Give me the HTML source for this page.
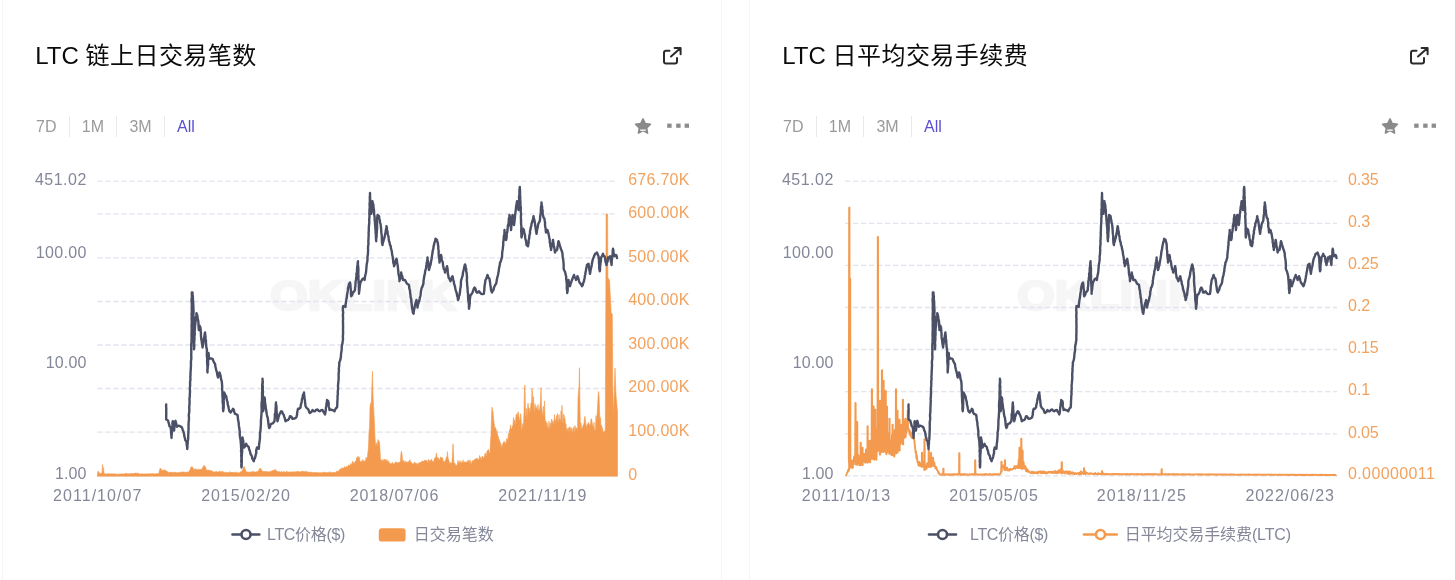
<!DOCTYPE html>
<html lang="zh-CN"><head><meta charset="utf-8"><title>LTC</title>
<style>
html,body{margin:0;padding:0;background:#fff;}
body{width:1455px;height:580px;overflow:hidden;position:relative;font-family:"Liberation Sans","Noto Sans CJK SC",sans-serif;}
.card{position:absolute;top:0;width:720px;height:600px;}
.card:before{content:"";position:absolute;left:1.5px;top:-10px;width:718px;height:620px;border:1px solid #f5f5f6;border-radius:4px;}
.title{position:absolute;left:35.3px;top:41px;font-size:24px;line-height:30px;color:#0b0b0b;white-space:nowrap;}
.tabs{position:absolute;left:22.8px;top:116px;height:21px;font-size:16px;line-height:21px;color:#9a9a9a;white-space:nowrap;display:flex;}
.tabs span{display:block;padding:0 12.2px 0 12.2px;border-left:1px solid #e9e9e9;}
.tabs span:first-child{border-left:1px solid transparent;}
.tabs .on{color:#5a4fd0;}
.cj{letter-spacing:0.45px;}
.ico{position:absolute;left:0;top:0;}
.chart{position:absolute;left:0;top:0;}
.ax{font-family:"Liberation Sans",sans-serif;font-size:16px;}
.lg{font-family:"Liberation Sans","Noto Sans CJK SC",sans-serif;font-size:16px;}
</style></head><body>

<div class="card" style="left:0px">
 <div class="title">LTC <span class=cj>链上日交易笔数</span></div>
 <div class="tabs"><span>7D</span><span>1M</span><span>3M</span><span class="on">All</span></div>
 
<svg class="ico" width="720" height="160" viewBox="0 -0.5 720 160">
 <g fill="none" stroke="#2b2b2b" stroke-width="2" stroke-linecap="round" stroke-linejoin="round">
  <path d="M669.5 50.2 H666 a2 2 0 0 0 -2 2 V61 a2 2 0 0 0 2 2 H675 a2 2 0 0 0 2 -2 V57.5"/>
  <path d="M671 56 L680.3 47.8 M674.6 47.6 H680.6 V53.8"/>
 </g>
 <path fill="#8a8a8a" d="M643 118.4 l2.3 4.7 5.2 0.7 -3.8 3.7 0.9 5.2 -4.6 -2.5 -4.6 2.5 0.9 -5.2 -3.8 -3.7 5.2 -0.7z" stroke="#8a8a8a" stroke-width="1.5" stroke-linejoin="round"/>
 <rect x="640.2" y="129" width="5.6" height="1.3" fill="#fff"/>
 <g fill="#8c8c8c"><rect x="667.2" y="123.1" width="4.4" height="4.2"/><rect x="676.2" y="123.1" width="4.4" height="4.2"/><rect x="684.6" y="123.1" width="4.4" height="4.2"/></g>
</svg>
 
<svg class="chart" width="720" height="580" viewBox="0 0 720 580">
 <text x="270" y="310.3" font-family="'Liberation Sans',sans-serif" font-weight="bold" font-size="42" fill="#f6f6f7" stroke="#f6f6f7" stroke-width="2.5" stroke-linejoin="miter" textLength="186" lengthAdjust="spacingAndGlyphs">OKLINK</text>
 <g stroke="#e1e4ed" stroke-width="1.3" stroke-dasharray="5.33 2.67"><line x1="97.3" y1="181.1" x2="617.6" y2="181.1"/><line x1="97.3" y1="213.9" x2="617.6" y2="213.9"/><line x1="97.3" y1="257.9" x2="617.6" y2="257.9"/><line x1="97.3" y1="301.5" x2="617.6" y2="301.5"/><line x1="97.3" y1="345.0" x2="617.6" y2="345.0"/><line x1="97.3" y1="388.5" x2="617.6" y2="388.5"/><line x1="97.3" y1="432.2" x2="617.6" y2="432.2"/><line x1="97.3" y1="475.7" x2="617.6" y2="475.7"/></g>
 <path d="M97.3 476.2 L97.5 473.8 L98.0 471.1 L98.5 471.7 L99.0 472.6 L99.5 473.1 L100.0 473.5 L100.5 473.3 L101.0 473.5 L101.5 473.2 L102.0 473.2 L102.5 464.6 L103.0 467.4 L103.5 467.8 L104.0 473.6 L104.5 473.7 L105.0 473.8 L105.5 473.9 L106.0 473.7 L106.5 473.9 L107.0 473.8 L107.5 473.6 L108.0 473.9 L108.5 473.8 L109.0 473.7 L109.5 473.6 L110.0 473.9 L110.5 474.0 L111.0 474.1 L111.5 473.7 L112.0 473.7 L112.5 473.8 L113.0 473.9 L113.5 473.7 L114.0 473.9 L114.5 474.1 L115.0 473.8 L115.5 473.8 L116.0 474.0 L116.5 474.2 L117.0 474.1 L117.5 474.2 L118.0 474.2 L118.5 474.0 L119.0 474.2 L119.5 474.0 L120.0 473.8 L120.5 474.1 L121.0 474.0 L121.5 473.7 L122.0 474.1 L122.5 474.0 L123.0 473.8 L123.5 474.1 L124.0 473.9 L124.5 473.6 L125.0 473.8 L125.5 473.3 L126.0 473.6 L126.5 473.6 L127.0 473.8 L127.5 473.6 L128.0 473.9 L128.5 473.8 L129.0 473.8 L129.5 473.8 L130.0 473.8 L130.5 473.5 L131.0 473.7 L131.5 473.6 L132.0 473.3 L132.5 473.5 L133.0 473.7 L133.5 473.5 L134.0 473.2 L134.5 473.7 L135.0 473.3 L135.5 473.0 L136.0 473.0 L136.5 473.2 L137.0 473.4 L137.5 473.1 L138.0 473.2 L138.5 473.7 L139.0 473.4 L139.5 473.7 L140.0 473.9 L140.5 474.0 L141.0 474.1 L141.5 474.1 L142.0 473.7 L142.5 473.8 L143.0 473.7 L143.5 474.1 L144.0 474.1 L144.5 473.9 L145.0 473.8 L145.5 473.9 L146.0 474.1 L146.5 473.7 L147.0 473.8 L147.5 474.1 L148.0 474.0 L148.5 473.6 L149.0 473.9 L149.5 473.8 L150.0 474.1 L150.5 473.7 L151.0 474.0 L151.5 473.6 L152.0 473.9 L152.5 473.6 L153.0 473.7 L153.5 473.6 L154.0 473.6 L154.5 474.0 L155.0 473.9 L155.5 473.7 L156.0 473.8 L156.5 473.6 L157.0 473.8 L157.5 473.6 L158.0 473.5 L158.5 473.7 L159.0 473.0 L159.5 469.9 L160.0 468.6 L160.5 468.1 L161.0 469.3 L161.5 469.4 L162.0 470.5 L162.5 470.8 L163.0 470.1 L163.5 470.2 L164.0 469.7 L164.5 469.9 L165.0 470.0 L165.5 470.5 L166.0 470.8 L166.5 471.0 L167.0 471.2 L167.5 471.9 L168.0 471.7 L168.5 472.4 L169.0 472.5 L169.5 472.5 L170.0 471.9 L170.5 472.5 L171.0 472.1 L171.5 471.9 L172.0 472.5 L172.5 472.4 L173.0 472.0 L173.5 472.7 L174.0 472.4 L174.5 472.7 L175.0 472.0 L175.5 472.3 L176.0 472.4 L176.5 472.8 L177.0 472.2 L177.5 472.7 L178.0 472.8 L178.5 472.6 L179.0 472.4 L179.5 472.1 L180.0 472.6 L180.5 472.2 L181.0 472.2 L181.5 472.3 L182.0 471.9 L182.5 472.0 L183.0 471.9 L183.5 471.9 L184.0 472.3 L184.5 471.8 L185.0 472.5 L185.5 472.4 L186.0 472.3 L186.5 472.3 L187.0 471.8 L187.5 472.0 L188.0 472.0 L188.5 472.5 L189.0 471.4 L189.5 470.5 L190.0 470.1 L190.5 468.6 L191.0 466.9 L191.5 467.2 L192.0 466.6 L192.5 467.3 L193.0 468.0 L193.5 468.7 L194.0 469.5 L194.5 469.3 L195.0 469.7 L195.5 468.5 L196.0 469.5 L196.5 469.6 L197.0 469.9 L197.5 469.8 L198.0 468.7 L198.5 469.7 L199.0 469.5 L199.5 469.9 L200.0 469.0 L200.5 469.4 L201.0 469.6 L201.5 469.2 L202.0 468.4 L202.5 468.0 L203.0 466.9 L203.5 466.2 L204.0 465.1 L204.5 465.9 L205.0 467.5 L205.5 466.6 L206.0 468.8 L206.5 469.7 L207.0 470.6 L207.5 470.2 L208.0 469.8 L208.5 470.2 L209.0 470.1 L209.5 470.6 L210.0 470.7 L210.5 470.2 L211.0 470.6 L211.5 470.7 L212.0 471.7 L212.5 471.0 L213.0 471.4 L213.5 472.0 L214.0 471.9 L214.5 472.1 L215.0 472.3 L215.5 471.5 L216.0 472.0 L216.5 471.6 L217.0 471.6 L217.5 472.1 L218.0 471.8 L218.5 471.7 L219.0 471.9 L219.5 471.6 L220.0 471.0 L220.5 471.6 L221.0 471.5 L221.5 472.0 L222.0 472.0 L222.5 471.1 L223.0 471.7 L223.5 472.2 L224.0 472.5 L224.5 472.6 L225.0 472.8 L225.5 472.1 L226.0 472.2 L226.5 472.2 L227.0 472.7 L227.5 472.5 L228.0 472.5 L228.5 472.7 L229.0 472.6 L229.5 471.7 L230.0 472.2 L230.5 472.2 L231.0 472.2 L231.5 472.6 L232.0 472.1 L232.5 472.6 L233.0 472.6 L233.5 472.2 L234.0 472.1 L234.5 472.7 L235.0 472.8 L235.5 472.1 L236.0 472.2 L236.5 472.2 L237.0 472.5 L237.5 472.9 L238.0 472.5 L238.5 472.4 L239.0 472.9 L239.5 472.8 L240.0 472.6 L240.5 471.8 L241.0 471.7 L241.5 471.2 L242.0 470.6 L242.5 470.5 L243.0 468.4 L243.5 468.6 L244.0 466.2 L244.5 467.0 L245.0 468.6 L245.5 470.1 L246.0 471.4 L246.5 471.6 L247.0 472.1 L247.5 472.0 L248.0 472.1 L248.5 472.2 L249.0 472.3 L249.5 471.9 L250.0 472.3 L250.5 472.2 L251.0 472.1 L251.5 471.7 L252.0 471.9 L252.5 471.6 L253.0 471.6 L253.5 471.6 L254.0 471.7 L254.5 472.2 L255.0 472.3 L255.5 471.8 L256.0 471.8 L256.5 471.8 L257.0 471.4 L257.5 472.2 L258.0 471.0 L258.5 470.9 L259.0 469.4 L259.5 469.4 L260.0 468.0 L260.5 468.8 L261.0 468.8 L261.5 470.0 L262.0 470.4 L262.5 471.3 L263.0 471.6 L263.5 471.1 L264.0 471.9 L264.5 471.2 L265.0 471.7 L265.5 471.0 L266.0 472.0 L266.5 471.6 L267.0 471.9 L267.5 471.3 L268.0 471.9 L268.5 471.8 L269.0 472.0 L269.5 471.5 L270.0 471.3 L270.5 471.9 L271.0 471.5 L271.5 470.7 L272.0 471.2 L272.5 470.3 L273.0 471.2 L273.5 470.7 L274.0 469.9 L274.5 469.5 L275.0 470.2 L275.5 469.6 L276.0 471.0 L276.5 470.7 L277.0 471.0 L277.5 471.6 L278.0 471.4 L278.5 471.8 L279.0 471.9 L279.5 471.5 L280.0 471.7 L280.5 472.1 L281.0 472.3 L281.5 471.3 L282.0 471.7 L282.5 472.4 L283.0 471.6 L283.5 471.8 L284.0 472.1 L284.5 471.6 L285.0 472.2 L285.5 472.2 L286.0 472.5 L286.5 471.6 L287.0 471.4 L287.5 472.0 L288.0 471.6 L288.5 472.2 L289.0 472.0 L289.5 472.3 L290.0 471.8 L290.5 471.7 L291.0 472.1 L291.5 472.1 L292.0 472.3 L292.5 471.7 L293.0 471.9 L293.5 472.0 L294.0 471.5 L294.5 472.0 L295.0 472.2 L295.5 471.6 L296.0 472.0 L296.5 471.6 L297.0 471.5 L297.5 471.5 L298.0 471.3 L298.5 471.6 L299.0 471.4 L299.5 471.9 L300.0 472.0 L300.5 471.5 L301.0 471.7 L301.5 471.5 L302.0 471.2 L302.5 471.0 L303.0 471.6 L303.5 471.2 L304.0 472.1 L304.5 472.0 L305.0 471.2 L305.5 471.3 L306.0 471.4 L306.5 472.1 L307.0 471.4 L307.5 471.8 L308.0 472.2 L308.5 472.3 L309.0 472.2 L309.5 471.9 L310.0 472.5 L310.5 472.0 L311.0 472.3 L311.5 472.0 L312.0 472.6 L312.5 472.4 L313.0 472.2 L313.5 472.7 L314.0 472.5 L314.5 472.6 L315.0 472.7 L315.5 472.6 L316.0 472.2 L316.5 472.6 L317.0 472.3 L317.5 472.9 L318.0 472.6 L318.5 472.6 L319.0 472.5 L319.5 472.9 L320.0 472.4 L320.5 472.8 L321.0 472.6 L321.5 472.8 L322.0 472.5 L322.5 472.8 L323.0 472.3 L323.5 472.7 L324.0 472.1 L324.5 471.9 L325.0 472.6 L325.5 472.4 L326.0 472.8 L326.5 472.7 L327.0 472.2 L327.5 472.8 L328.0 472.6 L328.5 472.6 L329.0 472.7 L329.5 471.8 L330.0 471.7 L330.5 472.8 L331.0 472.5 L331.5 472.7 L332.0 472.4 L332.5 472.4 L333.0 472.1 L333.5 472.5 L334.0 472.3 L334.5 472.5 L335.0 472.5 L335.5 472.6 L336.0 472.4 L336.5 471.2 L337.0 471.9 L337.5 470.9 L338.0 471.5 L338.5 470.9 L339.0 471.0 L339.5 469.6 L340.0 469.6 L340.5 468.9 L341.0 468.5 L341.5 469.3 L342.0 467.7 L342.5 468.3 L343.0 468.5 L343.5 468.1 L344.0 468.2 L344.5 466.5 L345.0 467.6 L345.5 467.0 L346.0 467.5 L346.5 466.2 L347.0 467.1 L347.5 467.1 L348.0 465.7 L348.5 464.9 L349.0 465.4 L349.5 466.3 L350.0 464.8 L350.5 464.1 L351.0 463.4 L351.5 464.7 L352.0 464.3 L352.5 461.3 L353.0 464.3 L353.5 461.9 L354.0 462.6 L354.5 463.9 L355.0 462.2 L355.5 461.1 L356.0 461.1 L356.5 457.8 L357.0 457.6 L357.5 457.4 L358.0 456.2 L358.5 457.6 L359.0 457.2 L359.5 457.3 L360.0 461.9 L360.5 462.1 L361.0 461.3 L361.5 461.0 L362.0 461.4 L362.5 460.8 L363.0 459.5 L363.5 461.6 L364.0 462.1 L364.5 460.6 L365.0 461.6 L365.5 461.3 L366.0 457.3 L366.5 459.7 L367.0 458.0 L367.5 456.2 L368.0 451.6 L368.5 446.7 L369.0 431.4 L369.5 427.9 L370.0 406.4 L370.5 403.3 L371.0 408.4 L371.5 397.6 L372.0 383.4 L372.5 371.3 L373.0 395.6 L373.5 404.8 L374.0 414.7 L374.5 423.4 L375.0 437.6 L375.5 443.4 L376.0 445.9 L376.5 442.7 L377.0 445.8 L377.5 444.8 L378.0 439.5 L378.5 441.9 L379.0 440.8 L379.5 442.7 L380.0 450.6 L380.5 459.2 L381.0 461.0 L381.5 460.2 L382.0 459.6 L382.5 462.8 L383.0 459.5 L383.5 461.7 L384.0 459.5 L384.5 459.1 L385.0 461.1 L385.5 460.4 L386.0 459.2 L386.5 462.2 L387.0 459.7 L387.5 462.8 L388.0 460.9 L388.5 461.3 L389.0 461.6 L389.5 463.4 L390.0 464.1 L390.5 463.9 L391.0 462.9 L391.5 464.0 L392.0 463.9 L392.5 462.5 L393.0 462.7 L393.5 464.8 L394.0 463.6 L394.5 463.7 L395.0 463.0 L395.5 461.9 L396.0 461.9 L396.5 464.2 L397.0 461.8 L397.5 464.0 L398.0 462.3 L398.5 463.1 L399.0 462.4 L399.5 462.4 L400.0 462.2 L400.5 460.6 L401.0 452.9 L401.5 451.2 L402.0 454.0 L402.5 460.8 L403.0 461.8 L403.5 460.5 L404.0 460.3 L404.5 463.0 L405.0 462.5 L405.5 461.3 L406.0 462.6 L406.5 461.7 L407.0 462.1 L407.5 463.0 L408.0 461.5 L408.5 461.8 L409.0 462.1 L409.5 460.4 L410.0 459.6 L410.5 461.8 L411.0 462.9 L411.5 462.0 L412.0 464.1 L412.5 463.6 L413.0 464.2 L413.5 464.2 L414.0 462.7 L414.5 462.1 L415.0 463.8 L415.5 462.7 L416.0 463.8 L416.5 463.2 L417.0 464.5 L417.5 465.0 L418.0 462.8 L418.5 463.4 L419.0 463.4 L419.5 462.8 L420.0 462.2 L420.5 463.0 L421.0 461.8 L421.5 463.2 L422.0 460.9 L422.5 461.2 L423.0 461.0 L423.5 461.5 L424.0 460.7 L424.5 461.1 L425.0 459.9 L425.5 461.2 L426.0 460.3 L426.5 460.9 L427.0 460.4 L427.5 462.6 L428.0 462.9 L428.5 459.4 L429.0 462.9 L429.5 460.0 L430.0 462.3 L430.5 460.5 L431.0 460.2 L431.5 459.0 L432.0 460.7 L432.5 461.6 L433.0 461.2 L433.5 462.4 L434.0 460.3 L434.5 458.3 L435.0 458.2 L435.5 457.2 L436.0 456.4 L436.5 452.9 L437.0 457.2 L437.5 457.5 L438.0 459.5 L438.5 457.8 L439.0 459.4 L439.5 459.9 L440.0 459.1 L440.5 456.8 L441.0 457.8 L441.5 457.7 L442.0 457.3 L442.5 458.1 L443.0 460.6 L443.5 461.1 L444.0 462.7 L444.5 461.5 L445.0 461.1 L445.5 460.3 L446.0 459.1 L446.5 456.7 L447.0 458.0 L447.5 451.7 L448.0 458.2 L448.5 459.1 L449.0 461.1 L449.5 463.5 L450.0 464.0 L450.5 462.3 L451.0 464.3 L451.5 462.7 L452.0 462.7 L452.5 453.7 L453.0 443.7 L453.5 453.4 L454.0 463.2 L454.5 463.3 L455.0 463.1 L455.5 464.9 L456.0 465.4 L456.5 465.5 L457.0 465.0 L457.5 463.7 L458.0 460.4 L458.5 463.1 L459.0 462.2 L459.5 462.7 L460.0 460.6 L460.5 461.7 L461.0 463.7 L461.5 461.8 L462.0 463.0 L462.5 462.6 L463.0 459.9 L463.5 462.6 L464.0 461.8 L464.5 462.7 L465.0 461.6 L465.5 462.4 L466.0 461.8 L466.5 462.4 L467.0 461.8 L467.5 462.0 L468.0 459.9 L468.5 460.8 L469.0 462.5 L469.5 461.9 L470.0 459.8 L470.5 461.5 L471.0 464.2 L471.5 464.3 L472.0 461.1 L472.5 461.5 L473.0 460.3 L473.5 460.8 L474.0 460.1 L474.5 459.8 L475.0 459.4 L475.5 458.9 L476.0 458.6 L476.5 458.1 L477.0 460.0 L477.5 458.3 L478.0 460.2 L478.5 459.4 L479.0 459.3 L479.5 455.5 L480.0 460.5 L480.5 457.4 L481.0 456.8 L481.5 460.2 L482.0 457.7 L482.5 456.0 L483.0 458.1 L483.5 457.0 L484.0 458.6 L484.5 455.6 L485.0 453.5 L485.5 453.1 L486.0 456.5 L486.5 454.7 L487.0 451.0 L487.5 450.7 L488.0 449.9 L488.5 449.6 L489.0 451.0 L489.5 453.5 L490.0 452.6 L490.5 441.1 L491.0 435.0 L491.5 418.0 L492.0 407.2 L492.5 410.8 L493.0 411.2 L493.5 418.6 L494.0 422.4 L494.5 425.7 L495.0 429.6 L495.5 427.4 L496.0 429.0 L496.5 435.2 L497.0 430.4 L497.5 433.4 L498.0 436.9 L498.5 436.6 L499.0 442.2 L499.5 439.4 L500.0 442.4 L500.5 442.6 L501.0 446.8 L501.5 447.6 L502.0 444.3 L502.5 448.7 L503.0 442.7 L503.5 443.6 L504.0 441.1 L504.5 442.0 L505.0 444.2 L505.5 442.5 L506.0 444.8 L506.5 438.5 L507.0 439.4 L507.5 439.0 L508.0 439.4 L508.5 433.2 L509.0 437.9 L509.5 429.8 L510.0 429.8 L510.5 424.9 L511.0 427.4 L511.5 429.3 L512.0 428.7 L512.5 425.9 L513.0 424.8 L513.5 417.4 L514.0 423.6 L514.5 419.8 L515.0 424.8 L515.5 421.8 L516.0 415.0 L516.5 413.9 L517.0 417.4 L517.5 414.3 L518.0 411.7 L518.5 412.7 L519.0 417.3 L519.5 419.9 L520.0 421.0 L520.5 413.7 L521.0 416.5 L521.5 430.2 L522.0 429.8 L522.5 423.6 L523.0 427.4 L523.5 422.8 L524.0 413.2 L524.5 387.2 L525.0 385.1 L525.5 414.9 L526.0 416.6 L526.5 408.4 L527.0 419.5 L527.5 409.6 L528.0 403.3 L528.5 407.6 L529.0 408.1 L529.5 408.7 L530.0 413.5 L530.5 408.8 L531.0 402.8 L531.5 405.5 L532.0 388.4 L532.5 393.4 L533.0 405.4 L533.5 396.8 L534.0 410.4 L534.5 412.9 L535.0 403.7 L535.5 410.4 L536.0 406.0 L536.5 409.7 L537.0 408.2 L537.5 410.5 L538.0 404.6 L538.5 410.1 L539.0 411.0 L539.5 409.7 L540.0 407.0 L540.5 400.4 L541.0 387.6 L541.5 405.3 L542.0 409.7 L542.5 414.4 L543.0 414.4 L543.5 406.2 L544.0 419.3 L544.5 400.9 L545.0 417.8 L545.5 423.3 L546.0 421.0 L546.5 427.0 L547.0 422.7 L547.5 425.7 L548.0 427.9 L548.5 428.6 L549.0 421.2 L549.5 427.5 L550.0 428.5 L550.5 423.1 L551.0 425.7 L551.5 419.0 L552.0 419.7 L552.5 425.4 L553.0 420.9 L553.5 425.0 L554.0 421.3 L554.5 414.4 L555.0 424.9 L555.5 419.3 L556.0 422.2 L556.5 415.4 L557.0 423.9 L557.5 413.6 L558.0 420.2 L558.5 423.8 L559.0 414.5 L559.5 420.3 L560.0 419.0 L560.5 422.9 L561.0 410.9 L561.5 416.4 L562.0 405.3 L562.5 420.9 L563.0 423.4 L563.5 414.5 L564.0 414.5 L564.5 418.1 L565.0 418.4 L565.5 425.3 L566.0 423.7 L566.5 432.7 L567.0 428.1 L567.5 430.6 L568.0 429.5 L568.5 427.7 L569.0 432.7 L569.5 427.0 L570.0 426.7 L570.5 431.6 L571.0 427.6 L571.5 432.2 L572.0 428.2 L572.5 433.4 L573.0 431.3 L573.5 427.4 L574.0 427.2 L574.5 434.7 L575.0 425.3 L575.5 432.1 L576.0 427.6 L576.5 428.2 L577.0 428.7 L577.5 432.6 L578.0 399.0 L578.5 392.0 L579.0 386.9 L579.5 367.7 L580.0 410.2 L580.5 429.9 L581.0 422.7 L581.5 429.8 L582.0 427.6 L582.5 429.0 L583.0 424.9 L583.5 425.3 L584.0 423.1 L584.5 417.7 L585.0 416.3 L585.5 422.0 L586.0 424.3 L586.5 428.9 L587.0 425.2 L587.5 424.2 L588.0 423.4 L588.5 422.4 L589.0 423.9 L589.5 424.4 L590.0 426.7 L590.5 423.4 L591.0 418.9 L591.5 418.8 L592.0 422.1 L592.5 425.0 L593.0 426.1 L593.5 428.8 L594.0 422.2 L594.5 432.2 L595.0 429.4 L595.5 429.4 L596.0 415.7 L596.5 422.0 L597.0 415.8 L597.5 408.3 L598.0 397.6 L598.5 391.4 L599.0 394.7 L599.5 409.4 L600.0 423.1 L600.5 417.7 L601.0 428.1 L601.5 425.0 L602.0 431.3 L602.5 427.6 L603.0 432.4 L603.5 431.7 L604.0 433.3 L604.5 430.7 L605.0 433.0 L605.3 430.0 L605.7 330.0 L605.9 280.0 L606.1 214.0 L607.6 214.0 L607.9 278.0 L609.5 280.0 L610.5 300.0 L611.2 313.0 L612.3 314.0 L612.8 388.0 L613.5 415.0 L615.0 368.0 L616.0 395.0 L617.5 412.0 L617.5 476.2 Z" fill="#f39a4e" stroke="#f39a4e" stroke-width="0.6" stroke-linejoin="round"/>
 <path d="M166.2 404.5 L166.1 406.6 L166.3 408.4 L166.2 410.6 L166.3 413.1 L166.2 414.9 L166.2 417.1 L166.2 419.5 L168.0 420.5 L168.4 421.9 L169.1 424.3 L169.5 426.2 L170.5 427.0 L170.8 428.3 L171.0 430.7 L171.1 432.6 L171.2 434.1 L171.4 435.8 L171.5 438.0 L171.6 435.4 L171.8 433.8 L171.9 432.1 L172.0 429.7 L172.2 427.6 L172.6 425.6 L172.4 423.1 L172.8 421.2 L173.0 423.6 L173.1 425.1 L173.6 427.1 L173.7 429.0 L174.0 430.5 L174.3 429.0 L174.4 427.0 L174.9 424.6 L175.0 422.4 L175.5 420.8 L176.1 423.1 L176.4 424.5 L177.0 426.8 L177.9 425.7 L179.0 425.8 L180.4 426.3 L182.0 427.5 L182.9 430.5 L183.4 431.6 L184.0 433.8 L184.4 436.3 L185.0 438.4 L185.2 440.0 L186.2 441.2 L186.6 442.9 L186.8 445.5 L187.1 446.7 L187.2 449.0 L187.5 446.8 L187.4 445.5 L187.7 443.2 L187.7 441.3 L188.1 439.4 L188.2 437.3 L188.2 435.0 L188.4 433.0 L188.4 431.1 L188.6 429.0 L188.5 427.0 L188.6 424.9 L188.6 422.8 L188.9 419.9 L189.0 417.8 L188.8 415.9 L188.9 413.8 L189.3 411.9 L189.3 409.5 L189.2 407.5 L189.4 405.6 L189.5 403.6 L189.6 400.9 L189.4 399.0 L189.8 396.5 L189.8 394.8 L190.0 391.8 L189.9 389.7 L189.8 388.3 L190.1 385.9 L190.1 383.5 L190.1 381.4 L190.5 379.5 L190.3 376.8 L190.5 375.0 L190.5 373.2 L190.6 371.2 L190.8 368.6 L190.9 366.5 L191.0 364.7 L190.9 363.5 L191.0 360.7 L191.3 359.1 L191.3 356.9 L191.2 355.0 L191.3 353.3 L191.3 351.2 L191.2 348.9 L191.3 346.5 L191.2 344.0 L191.6 342.1 L191.5 340.0 L191.6 337.6 L191.5 335.3 L191.6 333.9 L191.6 331.2 L191.7 329.6 L191.6 326.6 L191.6 324.8 L191.8 322.6 L191.7 320.7 L191.6 318.4 L191.7 316.7 L191.6 314.0 L191.8 311.5 L191.8 310.0 L191.7 307.6 L191.8 305.8 L191.8 303.5 L191.5 301.0 L191.6 299.4 L191.9 296.5 L191.8 294.7 L191.8 292.5 L192.5 292.5 L192.5 294.4 L192.9 296.6 L192.9 298.8 L193.0 300.5 L193.2 302.5 L193.3 305.1 L193.4 307.1 L193.4 308.8 L193.6 311.2 L193.5 312.9 L193.3 315.4 L193.6 317.7 L193.5 319.2 L193.6 322.1 L193.5 324.0 L193.5 325.7 L193.5 327.9 L193.6 330.7 L193.9 332.0 L193.7 334.9 L193.7 336.4 L193.8 338.3 L193.8 340.7 L193.9 343.4 L193.8 344.8 L194.1 347.2 L194.0 349.4 L194.2 347.4 L194.3 344.9 L194.1 343.2 L194.3 340.8 L194.5 338.9 L194.4 336.3 L194.8 334.3 L194.6 332.3 L194.8 330.0 L194.9 328.1 L195.0 326.0 L195.4 323.3 L195.6 321.2 L196.0 319.0 L196.0 316.8 L196.3 315.4 L196.5 313.1 L196.9 314.4 L197.3 315.3 L197.5 317.5 L197.7 319.0 L198.1 320.0 L198.4 322.1 L198.5 324.3 L198.5 326.4 L198.7 327.8 L198.8 330.0 L199.0 329.1 L199.3 326.5 L199.6 325.6 L200.4 327.5 L200.7 329.4 L200.7 331.4 L201.0 332.8 L200.9 334.6 L201.1 336.9 L201.2 338.8 L201.6 340.7 L201.8 342.2 L202.0 343.8 L202.4 346.0 L202.5 347.5 L202.9 345.4 L203.1 344.3 L203.3 342.6 L203.7 340.7 L203.8 338.8 L204.3 336.9 L204.7 333.9 L205.0 332.5 L205.3 334.8 L205.5 336.4 L205.5 338.9 L206.0 340.6 L205.9 342.6 L206.2 345.0 L206.3 347.2 L206.9 349.3 L206.9 350.6 L206.9 353.0 L206.8 355.3 L207.0 356.7 L207.2 359.0 L207.1 361.1 L207.2 363.8 L207.4 365.5 L207.5 367.7 L207.3 370.4 L207.5 372.5 L207.5 370.2 L207.7 367.9 L208.0 365.7 L208.1 364.1 L208.1 361.2 L208.3 359.0 L208.3 357.3 L208.2 355.3 L208.5 353.0 L208.8 355.0 L208.8 356.8 L209.0 358.8 L210.8 358.3 L212.5 358.8 L213.5 361.3 L214.3 362.9 L215.0 363.8 L215.4 366.2 L215.7 367.7 L216.1 369.6 L216.8 371.8 L217.1 373.4 L217.4 375.4 L218.0 377.5 L218.4 375.3 L219.1 374.2 L219.5 372.5 L219.9 373.7 L220.5 375.5 L220.8 377.9 L221.4 380.4 L221.8 381.2 L222.0 383.8 L222.1 385.8 L222.2 387.2 L222.1 389.3 L222.4 392.2 L222.4 393.9 L222.4 395.9 L222.7 398.9 L222.6 400.1 L222.7 402.5 L223.1 405.1 L223.0 406.6 L223.0 408.8 L223.2 411.2 L223.5 409.1 L223.7 407.5 L223.7 405.0 L223.8 402.5 L223.6 400.9 L223.9 398.5 L223.9 396.2 L224.3 394.8 L224.2 392.5 L225.4 395.2 L226.2 396.2 L226.6 398.6 L227.0 400.7 L227.6 402.1 L227.7 404.3 L228.4 406.5 L228.8 408.8 L229.4 411.2 L230.5 412.5 L231.4 411.2 L232.0 410.7 L233.0 408.8 L233.7 409.6 L234.3 412.3 L235.0 413.8 L236.4 414.3 L237.5 415.0 L237.8 416.8 L238.0 419.6 L238.3 420.9 L238.7 423.0 L238.8 425.4 L239.2 427.5 L239.5 429.8 L239.8 431.8 L239.7 434.3 L239.9 436.2 L240.3 438.6 L240.6 440.4 L240.8 443.0 L241.0 445.0 L241.0 446.7 L241.3 449.2 L241.0 450.9 L241.4 452.9 L241.2 455.5 L241.4 457.4 L241.4 458.9 L241.2 461.8 L241.5 462.9 L241.3 465.2 L241.5 467.5 L241.7 465.1 L241.7 463.6 L241.8 461.5 L241.7 458.6 L241.7 457.0 L241.8 455.1 L242.1 452.2 L242.2 450.0 L242.1 447.8 L242.3 446.5 L242.5 443.4 L242.5 441.8 L242.6 439.6 L242.5 437.5 L242.9 439.6 L243.3 441.1 L243.4 443.5 L243.8 445.4 L244.2 447.5 L245.1 446.1 L246.2 443.8 L246.9 445.6 L248.0 446.2 L248.8 447.5 L249.2 449.6 L249.9 451.1 L250.5 454.0 L251.2 455.0 L251.9 456.3 L252.3 458.5 L253.3 460.3 L253.8 461.2 L254.2 459.3 L254.8 458.4 L255.5 456.2 L255.7 454.6 L256.3 453.0 L256.2 450.6 L256.5 449.4 L257.0 447.5 L258.8 448.8 L259.0 446.8 L259.1 444.7 L259.3 443.0 L259.6 441.1 L259.8 439.3 L260.0 437.2 L260.0 435.0 L260.0 433.0 L260.5 430.6 L260.6 428.1 L260.8 426.2 L260.9 423.8 L260.9 421.7 L261.0 419.3 L261.2 417.5 L261.3 415.8 L261.5 413.6 L261.6 411.4 L261.7 409.1 L261.5 406.5 L261.6 404.1 L261.6 402.8 L262.0 400.1 L262.0 398.4 L262.1 396.3 L262.0 393.4 L262.2 391.5 L262.2 389.4 L262.2 387.8 L262.2 385.2 L262.4 383.1 L262.6 380.8 L262.5 378.8 L262.7 381.1 L262.8 382.7 L262.5 385.0 L262.9 386.9 L262.7 389.8 L263.0 391.4 L262.8 394.1 L263.0 396.3 L263.1 398.0 L262.9 399.9 L263.1 402.3 L263.0 405.2 L263.2 407.0 L263.3 409.2 L263.2 411.2 L263.5 409.1 L263.4 406.9 L263.6 405.2 L263.8 403.0 L264.1 401.9 L264.4 399.2 L264.5 397.5 L264.9 399.3 L264.9 401.5 L265.3 403.9 L265.6 406.1 L265.8 408.3 L266.2 410.0 L266.5 412.3 L266.8 414.3 L267.2 416.4 L267.8 418.2 L268.0 420.0 L268.2 421.5 L268.5 424.4 L268.8 426.2 L269.2 428.0 L270.0 426.9 L270.5 424.5 L271.2 423.8 L272.7 423.4 L274.5 421.2 L274.6 419.3 L274.9 416.8 L274.8 414.5 L275.3 412.5 L275.5 410.7 L275.6 408.4 L275.8 406.4 L275.8 404.6 L276.0 402.5 L276.0 404.3 L276.5 406.5 L276.5 409.0 L276.6 410.5 L276.7 412.8 L276.9 415.1 L277.2 417.5 L277.2 419.3 L277.5 421.2 L278.2 418.7 L278.5 417.0 L279.2 415.0 L280.1 413.1 L281.2 411.2 L282.2 411.8 L282.8 413.7 L283.8 415.0 L284.2 416.6 L284.9 418.5 L285.5 421.2 L286.6 420.4 L288.0 420.0 L289.0 418.9 L290.0 416.2 L291.3 416.7 L292.5 418.8 L294.3 418.6 L296.2 417.5 L296.6 416.4 L297.1 414.6 L297.1 413.0 L297.7 410.0 L298.0 408.8 L299.1 408.8 L300.5 407.5 L300.8 405.1 L301.2 403.9 L301.7 401.7 L301.9 399.5 L302.5 397.5 L302.9 395.3 L303.6 393.9 L304.0 392.5 L304.1 394.9 L304.4 396.1 L304.4 398.5 L304.9 399.9 L305.1 402.6 L305.3 404.0 L305.5 406.2 L306.5 407.7 L307.5 408.8 L308.4 409.5 L309.3 412.4 L310.0 413.0 L311.3 412.1 L312.5 410.0 L313.7 411.3 L315.0 411.2 L316.1 409.9 L317.5 409.5 L318.8 411.1 L320.0 411.2 L321.1 410.1 L322.5 410.0 L323.1 411.4 L324.0 412.4 L325.0 414.5 L325.4 412.5 L325.7 410.3 L325.9 407.8 L326.3 405.9 L326.4 404.2 L326.9 402.1 L327.0 400.0 L328.2 401.2 L328.7 403.1 L328.6 405.1 L328.9 407.0 L329.2 408.0 L329.5 410.0 L330.9 409.7 L332.0 410.0 L333.2 410.3 L334.5 411.2 L335.4 409.1 L336.1 408.1 L337.0 407.5 L337.3 404.8 L337.3 402.9 L337.4 401.0 L337.6 398.4 L337.5 396.2 L337.9 394.0 L337.7 392.2 L338.0 390.0 L338.1 388.3 L338.0 385.5 L338.2 383.7 L338.4 381.4 L338.6 379.6 L338.7 377.8 L338.6 375.6 L338.7 372.6 L339.0 370.6 L338.8 368.6 L339.0 367.2 L339.3 364.5 L339.2 362.5 L339.8 361.5 L340.4 359.4 L340.8 357.5 L341.0 355.0 L341.1 353.5 L341.4 351.6 L341.7 349.6 L341.7 346.7 L342.0 345.0 L342.5 343.5 L342.5 342.0 L343.0 340.0 L342.9 337.6 L342.9 335.8 L343.1 333.2 L343.1 331.7 L343.0 329.6 L343.1 326.9 L343.0 325.4 L343.1 323.3 L342.9 321.5 L343.1 318.6 L343.0 317.3 L342.9 314.6 L343.2 313.0 L342.9 310.7 L342.9 308.5 L343.0 306.2 L344.4 306.0 L345.5 307.0 L345.6 304.7 L345.9 302.5 L346.1 300.9 L346.5 298.6 L346.8 297.4 L347.0 295.0 L347.4 292.9 L347.8 290.9 L347.9 289.0 L348.2 287.2 L348.8 285.0 L349.2 283.5 L350.0 282.5 L350.4 284.7 L350.5 286.6 L350.6 288.6 L350.9 290.1 L351.0 292.1 L351.0 294.6 L351.2 296.2 L352.2 295.0 L353.0 292.5 L354.2 291.4 L355.0 290.0 L355.1 287.5 L355.4 286.2 L355.5 283.6 L355.6 281.7 L356.1 279.5 L356.1 277.8 L356.5 276.5 L356.4 273.6 L357.0 272.5 L357.0 270.0 L357.1 268.1 L357.4 266.3 L357.6 264.7 L357.7 262.6 L358.0 261.2 L357.9 263.1 L358.0 265.7 L358.3 267.5 L358.4 270.1 L358.3 272.1 L358.3 274.7 L358.5 276.0 L358.4 278.8 L358.6 281.0 L358.6 283.2 L358.9 284.7 L358.8 286.9 L358.9 289.7 L359.0 291.3 L359.0 293.8 L359.1 292.0 L359.5 289.6 L359.6 288.2 L359.8 286.4 L360.1 284.1 L360.5 282.5 L361.5 280.7 L362.5 278.8 L363.6 278.5 L364.5 280.0 L364.9 277.7 L365.1 276.1 L365.6 274.1 L366.1 271.7 L366.2 270.0 L366.4 268.0 L366.6 265.3 L366.8 263.7 L367.3 261.5 L367.5 259.4 L367.5 256.7 L367.9 254.2 L368.0 252.5 L368.1 249.9 L368.0 248.2 L368.1 246.4 L368.5 243.8 L368.3 241.3 L368.5 239.5 L368.5 237.5 L368.7 235.4 L368.6 232.6 L368.8 230.8 L368.8 228.8 L368.9 226.3 L369.1 224.5 L369.3 222.0 L369.2 220.0 L369.3 218.4 L369.5 216.0 L369.3 213.7 L369.5 211.5 L369.4 210.1 L369.8 207.2 L369.6 205.6 L369.6 203.0 L369.9 201.6 L369.8 198.8 L369.8 196.7 L370.1 194.6 L370.0 193.0 L370.0 195.3 L370.1 196.8 L370.2 198.9 L370.5 201.6 L370.5 203.0 L370.9 205.4 L370.8 207.1 L370.9 210.1 L371.0 211.4 L371.2 213.8 L371.6 212.1 L371.8 209.6 L372.1 207.6 L372.0 205.4 L372.4 203.6 L372.5 201.2 L372.7 202.7 L373.3 204.4 L373.5 206.3 L373.6 208.0 L374.0 210.0 L374.1 212.5 L374.1 214.3 L374.4 215.6 L374.7 217.7 L374.6 219.7 L375.0 222.1 L375.0 223.8 L375.2 225.4 L375.4 228.2 L375.6 230.8 L375.6 232.8 L375.9 234.5 L375.9 236.7 L376.0 238.9 L376.2 241.2 L376.2 238.8 L376.6 236.8 L376.6 235.1 L376.8 232.2 L376.9 230.6 L377.1 228.4 L377.1 226.3 L377.0 223.9 L377.1 221.9 L377.1 219.4 L377.3 217.5 L377.5 215.0 L379.0 216.2 L379.3 218.7 L379.9 220.7 L380.0 222.7 L380.5 223.8 L380.8 226.1 L381.0 227.5 L381.2 230.2 L381.3 232.1 L381.6 234.7 L381.8 236.2 L381.8 238.4 L381.9 240.6 L382.1 243.2 L382.5 245.0 L382.9 242.4 L383.3 241.7 L383.9 239.3 L384.5 237.5 L384.8 235.9 L385.3 233.6 L385.6 232.3 L385.8 230.4 L386.3 227.9 L386.5 226.2 L386.9 228.1 L386.9 229.8 L387.5 231.5 L387.7 233.2 L388.0 235.0 L388.6 237.2 L388.7 238.9 L389.1 241.5 L389.7 242.6 L390.0 245.0 L390.7 246.0 L391.0 248.6 L391.6 250.5 L392.0 252.5 L392.1 254.5 L392.7 256.7 L392.8 258.1 L393.2 260.7 L393.3 262.7 L393.9 264.2 L394.0 266.2 L394.6 264.8 L395.4 262.0 L395.8 260.3 L396.5 258.8 L396.9 260.4 L397.1 262.8 L397.5 264.4 L397.9 267.2 L398.0 268.8 L398.3 271.1 L398.4 273.3 L398.8 275.3 L399.1 276.9 L399.4 278.9 L399.5 281.2 L399.7 279.5 L400.4 278.5 L400.7 276.0 L401.1 274.4 L401.2 272.5 L401.5 274.6 L402.2 276.1 L402.6 277.7 L403.0 280.0 L405.0 280.0 L405.9 281.7 L407.0 283.8 L408.0 284.3 L409.0 285.0 L409.1 286.5 L409.5 289.2 L410.0 290.7 L410.1 293.0 L410.5 295.0 L410.6 297.2 L411.2 298.9 L411.3 301.5 L411.6 303.5 L411.8 305.2 L412.0 307.5 L412.6 310.3 L412.8 312.5 L413.5 313.8 L413.8 311.6 L413.9 310.5 L414.5 308.1 L414.7 306.9 L415.0 305.0 L415.7 303.0 L416.1 301.2 L416.5 300.0 L416.6 301.5 L417.0 303.9 L417.2 305.3 L417.5 307.5 L417.9 304.9 L418.4 303.4 L419.0 301.3 L419.5 300.0 L419.8 297.9 L420.4 296.0 L420.7 294.0 L420.8 292.1 L421.2 290.0 L421.7 287.7 L422.2 287.0 L423.0 285.0 L423.5 282.9 L423.5 280.9 L423.8 279.2 L424.2 276.7 L424.5 275.0 L425.0 273.4 L425.0 272.1 L425.6 269.5 L426.0 268.8 L426.2 266.2 L426.5 264.4 L426.7 262.8 L427.1 261.2 L427.4 258.9 L427.5 257.5 L427.7 259.9 L428.1 261.8 L428.3 263.6 L428.7 265.9 L428.7 267.6 L429.0 270.0 L429.3 269.0 L430.1 265.8 L430.5 265.0 L430.8 262.9 L431.2 260.7 L431.7 258.6 L431.8 257.1 L432.2 254.6 L432.5 252.5 L432.8 250.4 L433.3 248.8 L433.6 246.4 L434.1 244.4 L434.5 242.5 L435.2 240.7 L435.5 238.8 L437.0 240.0 L437.2 241.4 L437.8 242.7 L438.0 245.0 L438.3 246.7 L438.3 248.9 L438.7 251.2 L438.6 253.3 L438.8 256.2 L439.2 258.5 L439.5 260.4 L439.5 262.5 L440.0 259.9 L440.4 258.6 L440.5 257.3 L441.0 255.0 L441.5 256.9 L441.6 259.4 L442.3 261.1 L442.8 262.5 L443.0 265.0 L443.3 266.2 L443.8 269.1 L444.6 269.9 L445.0 272.5 L445.5 269.8 L446.4 268.6 L447.0 266.2 L447.4 268.0 L447.7 269.9 L447.7 271.6 L447.9 274.2 L448.4 275.8 L448.5 277.5 L449.4 278.8 L450.5 281.2 L451.0 279.3 L451.9 277.1 L452.5 276.2 L452.9 278.3 L453.1 279.6 L453.8 281.6 L454.1 283.9 L454.5 285.0 L455.0 286.6 L455.5 289.5 L456.1 291.4 L456.5 292.5 L456.9 293.7 L457.1 296.0 L457.7 297.2 L458.0 300.0 L458.6 298.8 L459.0 295.8 L459.5 295.0 L459.9 292.8 L460.1 290.8 L460.3 288.5 L460.7 286.9 L460.9 284.4 L460.9 282.0 L461.2 280.0 L461.6 278.9 L462.2 276.8 L462.7 275.3 L463.0 272.5 L463.6 270.2 L464.1 268.1 L464.5 265.9 L465.0 264.5 L465.6 265.9 L465.7 268.1 L466.2 268.8 L466.2 271.3 L466.6 272.6 L466.8 275.1 L467.0 277.2 L466.9 279.6 L466.9 281.5 L467.1 283.1 L467.2 285.8 L467.5 287.5 L467.6 289.9 L467.7 292.0 L468.0 293.5 L468.1 296.2 L468.1 298.3 L468.3 300.1 L468.7 302.8 L468.9 304.4 L468.9 306.9 L469.0 308.8 L469.3 306.7 L469.6 304.7 L469.8 302.8 L469.7 301.1 L469.9 299.1 L470.1 297.5 L470.5 295.0 L471.5 294.2 L472.5 292.5 L473.0 291.1 L473.8 288.7 L474.5 287.5 L475.3 288.3 L475.8 290.1 L476.5 292.5 L477.9 292.6 L479.0 291.2 L479.8 292.4 L481.0 293.8 L482.4 294.1 L483.8 293.8 L484.1 291.6 L484.4 289.5 L484.4 288.2 L484.6 285.6 L485.0 283.8 L485.1 282.4 L485.5 280.0 L486.2 278.8 L486.7 277.4 L487.5 275.0 L488.4 277.6 L489.5 278.8 L489.8 281.1 L490.1 282.6 L490.3 284.7 L490.5 285.8 L490.9 288.4 L491.0 290.0 L491.6 291.7 L492.0 292.5 L492.6 290.8 L493.5 290.0 L494.0 287.5 L495.2 285.0 L496.0 283.8 L496.5 282.1 L496.8 279.7 L497.1 278.4 L497.6 276.3 L498.0 275.0 L498.3 273.0 L498.8 270.9 L498.9 269.1 L499.3 267.1 L499.9 264.2 L500.0 262.5 L500.7 261.7 L501.3 259.3 L502.0 257.5 L502.1 254.9 L502.2 252.8 L502.4 251.2 L502.7 249.4 L503.0 246.6 L503.3 244.8 L503.2 242.5 L503.5 240.8 L503.7 238.2 L503.9 236.1 L504.3 233.9 L504.5 231.6 L504.5 230.0 L504.6 232.1 L505.0 234.0 L505.2 236.3 L505.8 238.2 L506.0 240.0 L506.5 238.5 L506.7 236.2 L506.7 233.5 L507.2 232.5 L507.5 230.0 L507.7 227.9 L507.9 225.6 L508.5 223.7 L508.8 220.9 L508.8 219.0 L509.3 216.7 L509.5 215.0 L509.9 216.9 L510.1 219.3 L510.1 221.9 L510.3 223.8 L510.4 226.0 L511.0 227.5 L511.0 230.0 L511.3 227.6 L511.3 225.6 L511.7 224.0 L512.1 221.9 L512.1 219.4 L512.2 217.4 L512.5 215.0 L512.8 216.9 L513.3 218.8 L513.3 220.7 L513.6 223.1 L514.0 225.0 L514.4 222.6 L514.5 220.9 L514.8 218.7 L515.0 216.2 L515.1 214.5 L515.5 212.5 L515.6 210.9 L515.9 209.1 L516.1 206.5 L516.5 204.9 L516.7 203.4 L517.0 201.2 L517.2 203.2 L517.7 204.7 L517.9 206.9 L518.2 207.9 L518.5 210.0 L518.4 207.5 L518.7 205.4 L518.9 203.7 L518.9 201.6 L519.2 199.3 L519.0 197.3 L519.2 195.8 L519.5 193.2 L519.4 190.7 L519.5 189.4 L519.8 187.0 L519.9 188.7 L520.0 190.7 L520.1 193.0 L520.0 195.4 L520.3 197.3 L520.2 199.5 L520.4 201.5 L520.4 203.8 L520.5 205.2 L520.8 207.5 L520.8 209.3 L520.7 212.0 L521.1 213.8 L520.9 216.2 L520.9 218.1 L521.1 220.3 L521.0 222.1 L521.2 225.1 L521.4 226.4 L521.3 228.9 L521.2 231.2 L521.4 233.5 L521.4 235.8 L521.5 237.5 L521.9 235.7 L522.0 234.0 L522.3 232.4 L522.8 230.6 L523.0 228.8 L523.9 230.0 L524.4 233.5 L525.0 235.0 L525.1 236.8 L525.4 239.1 L526.0 240.8 L526.3 242.9 L526.5 245.0 L528.0 246.2 L528.3 244.2 L528.7 242.4 L528.6 240.2 L529.1 239.1 L529.3 236.5 L529.5 235.0 L530.0 233.3 L530.0 231.1 L530.6 228.9 L530.7 227.4 L531.3 226.1 L531.5 223.8 L531.9 222.6 L532.6 220.7 L533.0 219.0 L533.5 216.2 L533.9 218.9 L534.3 219.5 L534.6 221.8 L535.0 223.8 L535.2 225.6 L535.6 227.8 L535.8 229.5 L536.2 231.8 L536.5 233.8 L536.8 232.2 L537.0 230.3 L537.3 228.8 L537.8 227.0 L538.0 225.0 L538.7 222.9 L539.5 221.7 L540.0 220.0 L540.1 217.6 L540.3 215.8 L540.7 213.4 L540.8 211.0 L540.9 208.9 L541.0 206.7 L541.4 204.9 L541.5 202.5 L541.6 204.3 L542.1 206.8 L542.3 208.9 L542.6 210.6 L542.6 212.8 L543.0 215.0 L543.6 217.7 L544.5 218.8 L544.7 220.9 L545.1 223.0 L545.0 224.5 L545.2 226.9 L545.7 228.6 L545.7 230.3 L546.0 232.5 L546.7 231.6 L547.5 230.0 L548.2 232.7 L548.6 234.1 L549.0 236.2 L549.3 238.0 L549.8 239.9 L549.7 241.9 L550.3 244.5 L550.4 246.4 L550.9 248.0 L551.0 250.0 L551.3 248.3 L551.7 245.6 L552.4 243.9 L552.6 242.1 L553.0 240.0 L553.2 241.6 L553.6 244.0 L553.8 246.1 L554.4 248.2 L554.7 250.5 L555.0 252.5 L555.9 250.4 L557.0 250.0 L557.4 248.4 L557.5 246.2 L558.0 245.2 L558.1 243.1 L558.5 241.2 L559.2 243.0 L559.6 245.1 L560.5 247.5 L561.2 249.8 L561.8 251.0 L562.5 253.8 L562.6 255.6 L562.8 257.7 L563.2 259.5 L563.4 261.6 L563.6 263.6 L563.7 265.8 L563.6 268.3 L564.0 270.0 L564.9 271.5 L565.5 273.8 L565.9 275.6 L566.2 277.1 L566.2 279.1 L566.5 281.2 L566.7 283.5 L566.9 285.2 L566.8 287.4 L566.8 288.8 L567.2 291.0 L567.2 293.0 L567.7 290.4 L567.7 288.4 L567.7 286.1 L567.9 284.2 L568.3 282.2 L568.5 280.0 L568.9 282.4 L569.5 285.0 L570.0 286.2 L570.5 284.2 L571.3 281.9 L572.0 280.0 L572.8 277.8 L573.5 276.4 L574.0 275.0 L574.6 276.9 L575.4 277.9 L576.0 280.0 L576.6 278.9 L577.5 276.2 L578.1 277.6 L578.9 280.5 L579.5 282.5 L580.3 283.4 L581.3 284.7 L582.0 286.2 L582.6 285.4 L583.3 282.7 L584.0 281.2 L584.2 279.7 L584.7 277.7 L584.9 275.7 L585.3 274.2 L585.5 272.5 L586.0 270.4 L586.3 267.9 L586.5 267.7 L587.0 265.0 L588.5 263.8 L588.9 265.9 L589.1 267.7 L589.3 269.4 L589.8 271.9 L590.0 273.8 L590.3 272.1 L590.6 270.2 L591.0 268.1 L591.5 266.2 L591.8 264.5 L592.1 262.5 L592.7 260.0 L593.0 258.8 L593.6 257.4 L594.4 255.6 L595.0 253.8 L596.1 253.3 L597.0 252.5 L597.6 254.3 L598.5 256.2 L598.8 258.5 L599.0 260.4 L599.0 263.1 L599.3 265.0 L599.2 267.1 L599.4 269.5 L599.8 271.2 L600.1 269.5 L600.0 267.7 L600.2 265.7 L600.5 262.9 L600.8 261.4 L601.0 259.7 L601.0 257.5 L602.0 256.3 L603.0 253.8 L603.6 255.7 L604.5 256.2 L604.8 257.1 L605.2 259.0 L605.5 261.7 L605.9 262.6 L606.5 265.0 L606.8 262.7 L607.4 262.0 L607.8 260.3 L608.0 257.5 L609.0 257.4 L610.0 256.2 L610.2 258.4 L610.7 260.0 L610.8 261.1 L611.4 263.3 L611.5 265.0 L611.7 263.3 L611.7 261.1 L612.0 259.2 L612.2 256.6 L612.6 254.6 L612.7 253.1 L612.7 251.0 L613.0 248.8 L613.3 250.1 L613.6 253.3 L614.1 254.4 L614.5 256.2 L616.0 255.0 L616.5 255.6 L617.0 258.0" fill="none" stroke="#4b5066" stroke-width="2.4" stroke-linejoin="round" stroke-linecap="round"/>
 <text class="ax" x="86.3" y="185" text-anchor="end" fill="#848798" textLength="51.3" lengthAdjust="spacing">451.02</text>
 <text class="ax" x="86.3" y="258" text-anchor="end" fill="#848798" textLength="50.5" lengthAdjust="spacing">100.00</text>
 <text class="ax" x="86.3" y="368" text-anchor="end" fill="#848798" textLength="40.5" lengthAdjust="spacing">10.00</text>
 <text class="ax" x="86.3" y="479.2" text-anchor="end" fill="#848798" textLength="31.3" lengthAdjust="spacing">1.00</text>
 <text class="ax" x="628.2" y="184.8" text-anchor="start" fill="#f2a25f" textLength="61.2" lengthAdjust="spacing">676.70K</text>
 <text class="ax" x="628.2" y="218.4" text-anchor="start" fill="#f2a25f" textLength="61.2" lengthAdjust="spacing">600.00K</text>
 <text class="ax" x="628.2" y="262.0" text-anchor="start" fill="#f2a25f" textLength="61.2" lengthAdjust="spacing">500.00K</text>
 <text class="ax" x="628.2" y="305.4" text-anchor="start" fill="#f2a25f" textLength="61.2" lengthAdjust="spacing">400.00K</text>
 <text class="ax" x="628.2" y="348.9" text-anchor="start" fill="#f2a25f" textLength="61.2" lengthAdjust="spacing">300.00K</text>
 <text class="ax" x="628.2" y="392.4" text-anchor="start" fill="#f2a25f" textLength="61.2" lengthAdjust="spacing">200.00K</text>
 <text class="ax" x="628.2" y="435.9" text-anchor="start" fill="#f2a25f" textLength="61.2" lengthAdjust="spacing">100.00K</text>
 <text class="ax" x="628.2" y="479.5" text-anchor="start" fill="#f2a25f">0</text>
 <text class="ax" x="97.2" y="501.3" text-anchor="middle" fill="#848798" textLength="88.3" lengthAdjust="spacing">2011/10/07</text>
 <text class="ax" x="245.6" y="501.3" text-anchor="middle" fill="#848798" textLength="88.7" lengthAdjust="spacing">2015/02/20</text>
 <text class="ax" x="394" y="501.3" text-anchor="middle" fill="#848798" textLength="88.7" lengthAdjust="spacing">2018/07/06</text>
 <text class="ax" x="542.3" y="501.3" text-anchor="middle" fill="#848798" textLength="88.3" lengthAdjust="spacing">2021/11/19</text>
 <g stroke="#4b5066" stroke-width="2.6" fill="#fff"><line x1="232.5" y1="534.5" x2="259.3" y2="534.5" stroke-linecap="round"/><circle cx="246" cy="534.5" r="4.5"/></g>
 <text class="lg" x="267" y="539.6" fill="#848798" textLength="78.4" lengthAdjust="spacing">LTC价格($)</text>
 <rect x="378.8" y="528.2" width="26.8" height="13.4" rx="3.2" fill="#f39a4e"/>
 <text class="lg" x="413.8" y="539.6" fill="#848798">日交易笔数</text>
</svg>
</div>

<div class="card" style="left:747px">
 <div class="title">LTC <span class=cj>日平均交易手续费</span></div>
 <div class="tabs"><span>7D</span><span>1M</span><span>3M</span><span class="on">All</span></div>
 
<svg class="ico" width="720" height="160" viewBox="0 -0.5 720 160">
 <g fill="none" stroke="#2b2b2b" stroke-width="2" stroke-linecap="round" stroke-linejoin="round">
  <path d="M669.5 50.2 H666 a2 2 0 0 0 -2 2 V61 a2 2 0 0 0 2 2 H675 a2 2 0 0 0 2 -2 V57.5"/>
  <path d="M671 56 L680.3 47.8 M674.6 47.6 H680.6 V53.8"/>
 </g>
 <path fill="#8a8a8a" d="M643 118.4 l2.3 4.7 5.2 0.7 -3.8 3.7 0.9 5.2 -4.6 -2.5 -4.6 2.5 0.9 -5.2 -3.8 -3.7 5.2 -0.7z" stroke="#8a8a8a" stroke-width="1.5" stroke-linejoin="round"/>
 <rect x="640.2" y="129" width="5.6" height="1.3" fill="#fff"/>
 <g fill="#8c8c8c"><rect x="667.2" y="123.1" width="4.4" height="4.2"/><rect x="676.2" y="123.1" width="4.4" height="4.2"/><rect x="684.6" y="123.1" width="4.4" height="4.2"/></g>
</svg>
 
<svg class="chart" width="720" height="580" viewBox="0 0 720 580">
 <text x="270" y="310.3" font-family="'Liberation Sans',sans-serif" font-weight="bold" font-size="42" fill="#f6f6f7" stroke="#f6f6f7" stroke-width="2.5" stroke-linejoin="miter" textLength="186" lengthAdjust="spacingAndGlyphs">OKLINK</text>
 <g stroke="#e1e4ed" stroke-width="1.3" stroke-dasharray="5.33 2.67"><line x1="98" y1="181.1" x2="590" y2="181.1"/><line x1="98" y1="223.3" x2="590" y2="223.3"/><line x1="98" y1="265.4" x2="590" y2="265.4"/><line x1="98" y1="307.5" x2="590" y2="307.5"/><line x1="98" y1="349.5" x2="590" y2="349.5"/><line x1="98" y1="391.6" x2="590" y2="391.6"/><line x1="98" y1="433.9" x2="590" y2="433.9"/><line x1="98" y1="475.8" x2="590" y2="475.8"/></g>
 <path d="M98.6 474.9 L99.0 475.3 L99.4 474.6 L99.8 473.8 L100.2 472.7 L100.6 472.2 L101.0 470.5 L101.4 469.7 L101.8 470.8 L102.2 466.6 L101.8 457.4 L102.2 207.6 L102.4 207.6 L102.8 457.4 L102.6 468.6 L103.0 465.0 L102.8 460.1 L103.0 278.6 L103.2 278.6 L103.4 460.1 L103.4 464.1 L103.8 462.4 L104.2 467.0 L104.6 465.0 L105.0 460.4 L105.4 468.1 L105.8 467.7 L106.2 461.9 L106.6 462.2 L107.0 456.6 L107.4 457.7 L107.8 460.3 L108.2 453.2 L108.2 464.3 L108.4 403.0 L108.6 403.0 L108.8 464.3 L108.6 459.8 L109.0 459.9 L109.4 457.6 L109.8 461.8 L110.2 462.3 L110.0 464.8 L110.1 422.0 L110.3 422.0 L110.5 464.8 L110.6 459.2 L111.0 462.4 L111.4 455.0 L111.8 458.5 L112.2 460.4 L112.6 465.4 L113.0 462.3 L113.4 462.0 L113.5 465.1 L113.6 442.6 L113.8 442.6 L113.9 465.1 L113.8 460.4 L114.2 460.4 L114.6 457.5 L115.0 456.9 L115.4 461.0 L115.3 465.0 L115.4 447.6 L115.6 447.6 L115.7 465.0 L115.8 461.1 L116.2 458.6 L116.6 453.6 L117.0 461.2 L117.4 458.4 L117.8 453.9 L118.2 462.8 L118.6 460.3 L119.0 449.4 L119.4 451.2 L119.8 456.0 L120.2 462.6 L120.6 448.0 L120.4 462.5 L120.5 426.3 L120.7 426.3 L120.9 462.5 L121.0 450.5 L121.4 446.5 L121.8 441.1 L122.2 441.9 L122.6 452.5 L123.0 459.0 L122.8 462.2 L122.9 440.6 L123.1 440.6 L123.2 462.2 L123.4 454.7 L123.8 447.3 L124.2 446.5 L124.6 456.3 L124.6 458.9 L124.8 389.2 L125.0 389.2 L125.2 458.9 L125.0 456.0 L125.4 439.0 L125.8 438.9 L126.2 448.5 L126.6 424.3 L126.4 459.0 L126.5 406.5 L126.7 406.5 L126.9 459.0 L127.0 437.9 L127.4 459.8 L127.8 446.1 L128.2 432.7 L128.0 458.1 L128.2 409.6 L128.4 409.6 L128.5 458.1 L128.6 449.7 L129.0 436.3 L129.4 459.7 L129.8 448.7 L130.2 428.6 L130.6 437.2 L130.5 447.7 L130.8 236.9 L131.0 236.9 L131.2 447.7 L131.0 433.5 L131.4 450.9 L131.8 438.7 L132.2 435.9 L132.6 446.9 L133.0 430.8 L132.8 454.5 L132.9 400.6 L133.1 400.6 L133.2 454.5 L133.4 434.9 L133.8 414.8 L134.2 432.2 L134.6 438.8 L135.0 451.0 L134.6 451.9 L134.9 370.1 L135.1 370.1 L135.4 451.9 L135.4 449.2 L135.8 422.7 L136.2 451.0 L136.6 451.1 L136.4 451.8 L136.5 380.6 L136.7 380.6 L136.9 451.8 L137.0 447.8 L137.4 431.7 L137.8 417.6 L138.2 428.4 L138.6 421.7 L138.4 451.5 L138.6 390.9 L138.8 390.9 L139.0 451.5 L139.0 452.2 L139.4 454.3 L139.8 428.0 L139.8 452.5 L139.9 406.6 L140.1 406.6 L140.2 452.5 L140.2 444.4 L140.6 432.9 L141.0 444.8 L141.4 450.6 L141.8 448.4 L142.2 453.2 L142.3 453.9 L142.4 418.6 L142.6 418.6 L142.7 453.9 L142.6 434.3 L143.0 442.9 L143.4 448.1 L143.8 445.7 L144.2 447.2 L144.6 455.1 L145.0 434.5 L145.4 442.1 L145.4 455.3 L145.5 424.6 L145.7 424.6 L145.9 455.3 L145.8 432.2 L146.2 445.6 L146.6 440.6 L147.0 450.6 L147.4 456.6 L147.8 429.9 L148.2 431.5 L148.6 447.6 L149.0 428.6 L148.7 453.4 L148.9 389.2 L149.1 389.2 L149.3 453.4 L149.4 430.4 L149.8 446.0 L150.2 436.0 L150.3 452.5 L150.4 410.6 L150.6 410.6 L150.7 452.5 L150.6 424.3 L151.0 438.5 L151.4 424.1 L151.8 445.4 L152.2 440.5 L152.3 450.5 L152.4 419.6 L152.6 419.6 L152.7 450.5 L152.6 430.2 L153.0 444.9 L153.4 441.9 L153.8 424.6 L154.2 436.0 L154.6 426.6 L155.0 442.5 L155.4 443.3 L155.8 437.2 L155.6 444.2 L155.8 399.6 L156.0 399.6 L156.2 444.2 L156.2 440.7 L156.6 420.2 L157.0 436.0 L157.4 429.1 L157.8 437.7 L158.2 428.6 L158.2 436.7 L158.4 418.6 L158.6 418.6 L158.8 436.7 L158.6 430.5 L159.0 429.3 L159.4 433.1 L159.8 430.9 L160.2 422.1 L160.6 426.5 L160.6 427.5 L160.7 410.6 L160.9 410.6 L161.0 427.5 L161.0 426.4 L161.4 428.3 L161.8 429.4 L162.2 431.4 L162.6 434.5 L163.0 431.3 L163.4 434.5 L163.8 436.3 L164.2 433.5 L164.6 437.4 L165.0 436.8 L165.4 434.2 L165.2 438.3 L165.3 432.3 L165.5 432.3 L165.6 438.3 L165.8 438.3 L166.2 437.1 L166.6 436.1 L167.0 438.9 L167.4 440.7 L167.8 445.1 L168.2 448.5 L168.6 452.6 L169.0 451.3 L169.4 458.3 L169.8 455.1 L170.2 459.5 L170.6 462.4 L171.0 461.8 L171.4 465.1 L171.8 461.9 L172.2 465.8 L172.6 462.3 L173.0 464.7 L173.4 465.6 L173.8 466.2 L174.2 463.8 L174.6 466.2 L175.0 461.5 L174.8 466.9 L174.9 452.6 L175.1 452.6 L175.2 466.9 L175.4 466.7 L175.8 463.6 L176.2 463.4 L176.6 466.4 L177.0 461.2 L177.4 466.6 L177.2 469.9 L177.4 439.2 L177.6 439.2 L177.8 469.9 L177.8 464.0 L178.2 465.9 L178.6 468.9 L179.0 467.3 L179.4 469.0 L179.8 467.2 L180.2 463.2 L180.6 465.9 L181.0 463.8 L181.4 467.0 L181.8 464.1 L181.5 466.7 L181.7 449.6 L181.9 449.6 L182.0 466.7 L182.2 465.3 L182.6 464.2 L183.0 465.5 L183.4 467.0 L183.8 465.2 L183.8 466.4 L183.9 453.0 L184.1 453.0 L184.2 466.4 L184.2 465.6 L184.6 466.1 L185.0 462.7 L185.4 464.9 L185.8 464.2 L185.8 465.7 L185.9 457.6 L186.1 457.6 L186.2 465.7 L186.2 461.8 L186.6 462.5 L187.0 462.1 L187.4 462.9 L187.8 466.6 L188.2 466.8 L188.6 468.5 L189.0 466.8 L189.4 467.6 L189.8 469.6 L190.2 470.3 L190.6 470.6 L191.0 471.5 L191.4 473.2 L191.8 472.6 L192.2 473.8 L192.6 473.9 L193.0 474.8 L193.4 474.8 L193.8 474.2 L194.2 474.3 L194.6 474.3 L195.0 474.9 L195.4 474.9 L195.8 474.8 L196.2 474.7 L196.1 474.6 L196.3 468.6 L196.5 468.6 L196.6 474.6 L196.6 474.7 L197.0 474.6 L197.4 474.9 L197.8 474.6 L198.2 474.4 L198.6 474.8 L199.0 474.2 L199.4 474.4 L199.8 474.3 L200.2 474.7 L200.6 474.5 L201.0 474.3 L201.4 474.6 L201.8 474.9 L202.2 474.2 L202.6 474.3 L203.0 474.7 L203.4 474.9 L203.8 474.2 L204.2 474.4 L204.6 474.9 L205.0 474.7 L205.4 474.8 L205.8 474.2 L206.2 474.7 L206.6 474.1 L207.0 474.3 L207.4 474.8 L207.8 474.3 L208.2 474.6 L208.6 474.3 L209.0 474.2 L209.4 474.7 L209.8 474.8 L210.2 474.1 L210.6 474.5 L211.0 474.1 L211.4 474.3 L211.8 474.3 L212.2 474.2 L212.1 473.8 L212.2 453.1 L212.4 453.1 L212.5 473.8 L212.6 474.4 L213.0 474.5 L213.4 474.9 L213.8 474.3 L214.2 474.5 L214.6 474.5 L215.0 474.1 L215.4 474.8 L215.8 474.2 L216.2 474.9 L216.6 474.3 L217.0 474.2 L217.4 474.7 L217.8 474.4 L218.2 474.0 L218.6 474.3 L219.0 474.4 L219.4 474.7 L219.8 474.8 L220.2 474.6 L220.6 474.5 L221.0 474.7 L221.4 474.6 L221.8 474.8 L222.2 474.3 L222.6 474.3 L223.0 474.7 L223.4 474.7 L223.8 474.4 L224.2 474.5 L224.6 474.1 L225.0 474.6 L225.4 474.6 L225.8 474.1 L226.2 474.8 L226.6 474.4 L227.0 474.6 L227.4 474.2 L227.8 474.4 L228.2 474.2 L228.0 474.2 L228.1 460.1 L228.3 460.1 L228.4 474.2 L228.6 474.7 L229.0 474.3 L229.4 474.3 L229.8 474.5 L230.2 474.2 L230.6 474.1 L231.0 474.8 L231.4 474.6 L231.8 474.6 L232.2 474.7 L232.6 474.8 L233.0 474.6 L233.4 474.7 L233.8 474.2 L234.2 474.5 L234.6 474.8 L235.0 474.6 L235.4 474.5 L235.8 474.6 L236.2 474.7 L236.6 474.8 L237.0 474.9 L237.4 474.0 L237.8 474.2 L238.2 474.8 L238.6 474.2 L239.0 474.0 L239.4 474.4 L239.8 474.8 L240.2 474.4 L240.6 474.5 L241.0 474.7 L241.4 474.4 L241.8 474.9 L242.2 474.0 L242.6 474.3 L243.0 474.3 L243.4 474.0 L243.8 474.3 L244.2 474.7 L244.6 474.7 L245.0 474.8 L245.4 474.9 L245.8 474.1 L246.2 474.1 L246.6 474.6 L247.0 474.7 L247.4 474.3 L247.8 474.1 L248.2 474.0 L248.6 474.7 L249.0 474.1 L249.4 474.1 L249.8 474.2 L250.2 474.6 L250.6 474.7 L251.0 474.1 L251.4 474.6 L251.8 474.5 L252.2 474.4 L252.6 474.5 L253.0 474.1 L253.4 473.6 L253.8 473.1 L254.2 470.4 L254.2 471.2 L254.4 461.6 L254.6 461.6 L254.8 471.2 L254.6 468.8 L255.0 466.5 L255.4 467.0 L255.8 465.8 L256.2 465.5 L256.6 467.9 L257.0 467.8 L257.4 469.7 L257.8 468.8 L257.8 470.1 L257.9 460.1 L258.1 460.1 L258.2 470.1 L258.2 467.3 L258.6 470.2 L259.0 467.4 L259.4 469.9 L259.8 469.0 L260.2 467.6 L260.6 470.4 L261.0 470.5 L261.4 469.7 L261.8 470.2 L262.2 469.2 L262.6 470.6 L263.0 468.9 L263.4 468.9 L263.8 469.0 L264.2 469.6 L264.6 469.7 L265.0 469.1 L265.4 469.1 L265.8 469.0 L266.2 469.0 L266.6 468.5 L267.0 467.6 L267.4 466.8 L267.8 466.1 L268.2 468.7 L268.6 468.0 L269.0 467.1 L269.4 466.1 L269.8 466.8 L270.2 467.5 L270.6 468.1 L271.0 466.0 L271.4 464.6 L271.8 459.3 L272.2 459.1 L272.2 468.0 L272.4 447.6 L272.6 447.6 L272.8 468.0 L272.6 458.7 L273.0 456.3 L273.4 455.5 L273.8 459.8 L274.2 456.0 L274.0 468.0 L274.2 438.6 L274.4 438.6 L274.6 468.0 L274.6 468.7 L275.0 460.4 L275.4 462.5 L275.4 468.9 L275.5 450.6 L275.7 450.6 L275.8 468.9 L275.8 466.9 L276.2 464.9 L276.6 462.2 L277.0 466.6 L277.4 465.9 L277.8 468.6 L278.2 468.8 L278.6 466.4 L279.0 471.0 L279.4 470.6 L279.8 468.9 L280.2 470.2 L280.6 471.8 L281.0 470.2 L281.4 471.4 L281.8 471.2 L282.2 472.0 L282.6 472.1 L283.0 472.4 L283.4 472.7 L283.8 473.2 L284.2 473.1 L284.6 471.7 L285.0 472.4 L285.4 473.2 L285.8 471.7 L286.2 472.9 L286.6 473.2 L287.0 472.3 L287.4 472.9 L287.8 472.4 L288.2 472.3 L288.6 472.9 L289.0 472.2 L289.4 473.2 L289.8 472.3 L290.2 472.1 L290.6 473.2 L291.0 472.5 L291.4 473.2 L291.8 472.4 L292.2 471.4 L292.6 472.1 L293.0 471.8 L293.4 471.7 L293.8 473.1 L294.2 471.2 L294.6 471.8 L295.0 473.2 L295.4 471.6 L295.8 472.6 L296.2 473.0 L296.6 471.4 L297.0 472.2 L297.4 471.8 L297.8 473.1 L298.2 471.8 L298.6 473.3 L299.0 472.9 L299.4 472.7 L299.8 473.4 L300.2 472.2 L300.6 473.0 L301.0 472.8 L301.4 472.1 L301.8 472.6 L302.2 471.8 L302.6 472.3 L303.0 471.8 L303.4 472.4 L303.8 471.7 L304.2 471.7 L304.6 473.1 L305.0 471.9 L305.4 472.7 L305.8 471.8 L306.2 471.9 L306.6 471.5 L307.0 473.1 L307.4 472.5 L307.8 471.6 L308.2 471.1 L308.6 471.6 L309.0 473.3 L309.4 471.8 L309.8 473.1 L310.2 471.9 L310.6 471.2 L311.0 473.1 L311.4 470.5 L311.8 471.1 L312.2 472.4 L312.6 472.6 L313.0 471.4 L313.4 469.5 L313.8 470.5 L314.2 472.9 L314.6 473.4 L314.5 473.0 L314.7 462.1 L314.9 462.1 L315.0 473.0 L315.0 472.9 L315.4 469.6 L315.8 472.8 L316.2 471.5 L316.6 472.8 L317.0 471.9 L317.4 472.7 L317.8 473.4 L318.2 471.4 L318.6 472.4 L319.0 472.0 L319.4 471.6 L319.8 471.2 L320.2 473.9 L320.6 473.0 L321.0 473.6 L321.4 472.6 L321.8 471.5 L322.2 471.7 L322.6 474.1 L323.0 473.6 L323.4 471.8 L323.8 472.3 L324.2 473.2 L324.6 473.0 L325.0 473.8 L325.4 472.3 L325.8 473.4 L326.2 472.5 L326.6 473.1 L327.0 474.1 L327.4 473.7 L327.8 473.9 L328.2 473.0 L328.6 473.4 L329.0 474.2 L329.4 474.0 L329.8 473.6 L330.2 473.4 L330.6 473.1 L331.0 473.4 L331.4 473.5 L331.8 474.3 L332.2 472.8 L332.6 473.4 L333.0 474.2 L333.4 473.0 L333.8 471.4 L334.2 474.2 L334.6 473.8 L335.0 472.2 L335.4 473.4 L335.8 473.4 L336.2 472.6 L336.6 473.4 L336.8 474.0 L336.9 468.1 L337.1 468.1 L337.2 474.0 L337.0 472.2 L337.4 472.5 L337.8 471.3 L338.2 471.4 L338.6 474.2 L339.0 473.0 L339.4 472.7 L339.8 472.7 L340.2 473.1 L340.6 473.5 L341.0 473.6 L341.4 473.9 L341.8 474.0 L342.2 473.4 L342.6 473.3 L343.0 473.2 L343.4 473.5 L343.8 474.0 L344.2 473.4 L344.6 473.4 L345.0 473.7 L345.4 473.6 L345.8 473.9 L346.2 473.7 L346.6 473.8 L347.0 474.3 L347.4 473.9 L347.8 474.0 L348.2 473.0 L348.6 473.7 L349.0 473.9 L349.4 474.1 L349.8 474.1 L350.2 473.9 L350.6 474.2 L351.0 474.4 L351.4 473.1 L351.8 473.7 L352.2 473.7 L352.6 473.6 L353.0 474.0 L353.4 474.1 L353.8 474.3 L354.2 473.8 L354.6 473.8 L354.8 474.3 L354.9 471.1 L355.1 471.1 L355.2 474.3 L355.0 472.7 L355.4 473.3 L355.8 472.9 L356.2 474.0 L356.6 473.5 L357.0 474.1 L357.4 474.4 L357.8 474.3 L358.2 474.1 L358.6 473.8 L359.0 474.2 L359.4 474.0 L359.8 474.2 L360.2 473.9 L360.6 474.4 L361.0 474.1 L361.4 473.9 L361.8 474.3 L362.2 474.3 L362.6 474.4 L363.0 474.3 L363.4 474.3 L363.8 474.0 L364.2 474.3 L364.6 474.2 L365.0 474.3 L365.4 474.1 L365.8 473.9 L366.2 474.1 L366.6 474.3 L367.0 474.0 L367.4 473.9 L367.8 474.1 L368.2 474.4 L368.6 474.0 L369.0 473.9 L369.4 474.3 L369.8 474.4 L370.2 474.4 L370.6 474.1 L371.0 473.9 L371.4 474.1 L371.8 473.9 L372.2 474.3 L372.6 474.3 L373.0 474.0 L373.4 474.1 L373.8 474.2 L374.2 474.1 L374.6 474.3 L375.0 474.5 L375.4 474.2 L375.8 474.5 L376.2 474.1 L376.6 474.3 L377.0 474.2 L377.4 474.1 L377.8 474.3 L378.2 474.2 L378.6 474.5 L379.0 473.9 L379.4 474.2 L379.8 473.9 L380.2 474.5 L380.6 474.1 L381.0 474.1 L381.4 474.3 L381.8 474.5 L382.2 474.4 L382.6 474.4 L383.0 474.1 L383.4 474.5 L383.8 474.0 L384.2 474.3 L384.6 474.2 L385.0 474.2 L385.4 474.2 L385.8 474.1 L386.2 474.2 L386.6 474.3 L387.0 474.1 L387.4 474.4 L387.8 474.1 L388.2 474.1 L388.6 474.1 L389.0 474.4 L389.4 474.1 L389.8 474.0 L390.2 474.3 L390.6 474.4 L391.0 474.2 L391.4 474.0 L391.8 474.5 L392.2 474.5 L392.6 474.3 L393.0 474.2 L393.4 474.1 L393.8 474.3 L394.2 474.0 L394.6 474.4 L395.0 474.1 L395.4 474.5 L395.8 474.5 L396.2 474.5 L396.6 474.5 L397.0 474.3 L397.4 474.2 L397.8 474.5 L398.2 474.0 L398.6 474.4 L399.0 474.5 L399.4 474.5 L399.8 474.1 L400.2 474.0 L400.6 474.5 L401.0 474.6 L401.4 474.1 L401.8 474.4 L402.2 474.0 L402.6 474.3 L403.0 474.2 L403.4 474.4 L403.8 474.1 L404.2 474.3 L404.6 474.4 L405.0 474.1 L405.4 474.5 L405.8 474.2 L406.2 474.6 L406.6 474.2 L407.0 474.4 L407.4 474.1 L407.8 474.6 L408.2 474.3 L408.6 474.4 L409.0 474.1 L409.4 474.1 L409.8 474.2 L410.2 474.5 L410.6 474.5 L411.0 474.5 L411.4 474.4 L411.8 474.5 L412.2 474.5 L412.6 474.2 L413.0 474.2 L413.4 474.4 L413.8 474.0 L414.2 474.5 L414.6 474.3 L414.5 474.4 L414.6 469.3 L414.8 469.3 L414.9 474.4 L415.0 474.5 L415.4 474.1 L415.8 474.1 L416.2 474.5 L416.6 474.2 L417.0 474.2 L417.4 474.5 L417.8 474.4 L418.2 474.4 L418.6 474.1 L419.0 474.5 L419.4 474.2 L419.8 474.3 L420.2 474.4 L420.6 474.3 L421.0 474.1 L421.4 474.5 L421.8 474.1 L422.2 474.4 L422.6 474.2 L423.0 474.2 L423.4 474.5 L423.8 474.2 L424.2 474.1 L424.6 474.5 L425.0 474.6 L425.4 474.6 L425.8 474.1 L426.2 474.7 L426.6 474.1 L427.0 474.6 L427.4 474.3 L427.8 474.6 L428.2 474.6 L428.6 474.3 L429.0 474.6 L429.4 474.5 L429.8 474.2 L430.2 474.3 L430.6 474.2 L431.0 474.1 L431.4 474.7 L431.8 474.5 L432.2 474.2 L432.6 474.3 L433.0 474.7 L433.4 474.4 L433.8 474.6 L434.2 474.4 L434.6 474.6 L435.0 474.7 L435.4 474.1 L435.8 474.5 L436.2 474.2 L436.6 474.6 L437.0 474.4 L437.4 474.6 L437.8 474.5 L438.2 474.6 L438.6 474.3 L439.0 474.6 L439.4 474.3 L439.8 474.4 L440.2 474.6 L440.6 474.5 L441.0 474.4 L441.4 474.2 L441.8 474.5 L442.2 474.6 L442.6 474.2 L443.0 474.2 L443.4 474.3 L443.8 474.6 L444.2 474.6 L444.6 474.6 L445.0 474.7 L445.4 474.7 L445.8 474.4 L446.2 474.5 L446.6 474.4 L447.0 474.5 L447.4 474.7 L447.8 474.4 L448.2 474.4 L448.6 474.4 L449.0 474.4 L449.4 474.4 L449.8 474.2 L450.2 474.3 L450.6 474.4 L451.0 474.5 L451.4 474.6 L451.8 474.5 L452.2 474.2 L452.6 474.5 L453.0 474.5 L453.4 474.5 L453.8 474.7 L454.2 474.2 L454.6 474.7 L455.0 474.4 L455.4 474.3 L455.8 474.6 L456.2 474.4 L456.6 474.6 L457.0 474.6 L457.4 474.7 L457.8 474.7 L458.2 474.3 L458.6 474.4 L459.0 474.3 L459.4 474.7 L459.8 474.4 L460.2 474.6 L460.6 474.4 L461.0 474.5 L461.4 474.6 L461.8 474.3 L462.2 474.8 L462.6 474.4 L463.0 474.3 L463.4 474.5 L463.8 474.5 L464.2 474.3 L464.6 474.7 L465.0 474.5 L465.4 474.4 L465.8 474.6 L466.2 474.4 L466.6 474.6 L467.0 474.5 L467.4 474.5 L467.8 474.4 L468.2 474.6 L468.6 474.5 L469.0 474.5 L469.4 474.7 L469.8 474.5 L470.2 474.7 L470.6 474.3 L471.0 474.6 L471.4 474.4 L471.8 474.5 L472.2 474.6 L472.6 474.7 L473.0 474.7 L473.4 474.3 L473.8 474.5 L474.2 474.5 L474.6 474.5 L475.0 474.4 L475.4 474.7 L475.8 474.7 L476.2 474.4 L476.6 474.6 L477.0 474.5 L477.4 474.4 L477.8 474.4 L478.2 474.4 L478.6 474.8 L479.0 474.6 L479.4 474.4 L479.8 474.4 L480.2 474.8 L480.6 474.8 L481.0 474.7 L481.4 474.8 L481.8 474.7 L482.2 474.4 L482.6 474.6 L483.0 474.6 L483.4 474.8 L483.8 474.6 L484.2 474.3 L484.6 474.5 L485.0 474.6 L485.4 474.6 L485.8 474.5 L486.2 474.5 L486.6 474.8 L487.0 474.5 L487.4 474.7 L487.8 474.6 L488.2 474.7 L488.6 474.7 L489.0 474.7 L489.4 474.7 L489.8 474.9 L490.2 474.8 L490.6 474.6 L491.0 474.8 L491.4 474.8 L491.8 474.5 L492.2 474.7 L492.6 474.7 L493.0 474.8 L493.4 474.5 L493.8 474.8 L494.2 474.6 L494.6 474.5 L495.0 474.8 L495.4 474.7 L495.8 474.5 L496.2 474.6 L496.6 474.7 L497.0 474.9 L497.4 474.7 L497.8 474.7 L498.2 474.5 L498.6 474.8 L499.0 474.7 L499.4 474.6 L499.8 474.5 L500.2 474.7 L500.6 474.7 L501.0 474.6 L501.4 474.5 L501.8 474.8 L502.2 474.4 L502.6 474.6 L503.0 474.7 L503.4 474.6 L503.8 474.8 L504.2 474.9 L504.6 474.6 L505.0 474.7 L505.4 474.7 L505.8 474.7 L506.2 474.5 L506.6 474.6 L507.0 474.9 L507.4 474.6 L507.8 474.7 L508.2 474.7 L508.6 474.5 L509.0 474.7 L509.4 474.7 L509.8 474.5 L510.2 474.7 L510.6 474.7 L511.0 474.7 L511.4 474.5 L511.8 474.6 L512.2 474.6 L512.6 474.8 L513.0 474.9 L513.4 474.6 L513.8 474.7 L514.2 474.6 L514.6 474.6 L515.0 474.9 L515.4 474.8 L515.8 474.9 L516.2 474.6 L516.6 474.9 L517.0 474.9 L517.4 474.6 L517.8 474.7 L518.2 474.9 L518.6 474.6 L519.0 474.6 L519.4 474.7 L519.8 474.9 L520.2 474.6 L520.6 474.8 L521.0 474.7 L521.4 474.5 L521.8 474.6 L522.2 474.6 L522.6 474.9 L523.0 474.8 L523.4 474.7 L523.8 475.0 L524.2 474.5 L524.6 474.9 L525.0 474.9 L525.4 474.8 L525.8 474.9 L526.2 474.6 L526.6 474.7 L527.0 474.8 L527.4 474.8 L527.8 475.0 L528.2 474.9 L528.6 474.6 L529.0 474.6 L529.4 474.6 L529.8 474.9 L530.2 474.9 L530.6 475.0 L531.0 474.8 L531.4 474.8 L531.8 474.8 L532.2 474.8 L532.6 474.7 L533.0 474.8 L533.4 474.6 L533.8 474.9 L534.2 474.6 L534.6 474.8 L535.0 475.0 L535.4 474.9 L535.8 474.8 L536.2 474.8 L536.6 474.8 L537.0 474.9 L537.4 474.9 L537.8 474.7 L538.2 474.9 L538.6 474.7 L539.0 474.7 L539.4 474.8 L539.8 474.8 L540.2 474.6 L540.6 474.8 L541.0 474.6 L541.4 475.0 L541.8 474.8 L542.2 474.8 L542.6 475.0 L543.0 474.7 L543.4 475.0 L543.8 474.8 L544.2 475.0 L544.6 474.6 L545.0 474.8 L545.4 474.7 L545.8 474.8 L546.2 474.8 L546.6 474.8 L547.0 474.9 L547.4 475.0 L547.8 474.7 L548.2 475.0 L548.6 474.7 L549.0 475.0 L549.4 475.0 L549.8 475.0 L550.2 474.7 L550.6 474.7 L551.0 474.9 L551.4 474.8 L551.8 475.0 L552.2 474.7 L552.6 474.8 L553.0 475.0 L553.4 475.1 L553.8 474.8 L554.2 475.1 L554.6 474.7 L555.0 475.0 L555.4 475.0 L555.8 474.8 L556.2 475.0 L556.6 474.8 L557.0 475.0 L557.4 474.7 L557.8 475.0 L558.2 474.7 L558.6 475.0 L559.0 474.8 L559.4 474.7 L559.8 474.9 L560.2 475.1 L560.6 474.9 L561.0 474.8 L561.4 475.0 L561.8 474.9 L562.2 475.1 L562.6 474.9 L563.0 474.8 L563.4 474.9 L563.8 474.8 L564.2 475.1 L564.6 474.8 L565.0 475.1 L565.4 474.7 L565.8 474.7 L566.2 474.7 L566.6 474.9 L567.0 475.0 L567.4 475.0 L567.8 474.8 L568.2 474.9 L568.6 474.7 L569.0 475.1 L569.4 474.9 L569.8 474.8 L570.2 474.9 L570.6 474.9 L571.0 475.1 L571.4 475.1 L571.8 475.0 L572.2 474.8 L572.6 474.8 L573.0 475.0 L573.4 474.8 L573.8 475.1 L574.2 474.9 L574.6 474.7 L575.0 475.0 L575.4 474.8 L575.8 474.9 L576.2 475.1 L576.6 475.0 L577.0 475.0 L577.4 475.1 L577.8 474.9 L578.2 475.1 L578.6 474.8 L579.0 475.0 L579.4 475.1 L579.8 474.9 L580.2 475.1 L580.6 474.9 L581.0 474.8 L581.4 474.9 L581.8 475.0 L582.2 475.2 L582.6 475.0 L583.0 475.1 L583.4 474.9 L583.8 475.1 L584.2 474.9 L584.6 475.0 L585.0 475.0 L585.4 474.9 L585.8 475.1 L586.2 475.1 L586.6 474.8 L587.0 475.1 L587.4 474.9 L587.8 474.8 L588.2 475.0 L588.6 475.1 L589.0 475.2 L589.4 474.8" fill="none" stroke="#f39a4e" stroke-width="1.9" stroke-linejoin="round"/>
 <path d="M161.6 404.5 L161.4 406.6 L161.6 408.4 L161.6 410.6 L161.6 413.1 L161.5 414.9 L161.5 417.1 L161.6 419.5 L163.2 420.5 L163.6 421.9 L164.3 424.3 L164.7 426.2 L165.6 427.0 L165.9 428.3 L166.1 430.7 L166.2 432.6 L166.3 434.1 L166.5 435.8 L166.6 438.0 L166.6 435.4 L166.8 433.8 L166.9 432.1 L167.0 429.7 L167.2 427.6 L167.6 425.6 L167.4 423.1 L167.7 421.2 L168.0 423.6 L168.0 425.1 L168.5 427.1 L168.6 429.0 L168.9 430.5 L169.2 429.0 L169.3 427.0 L169.7 424.6 L169.9 422.4 L170.3 420.8 L170.9 423.1 L171.2 424.5 L171.8 426.8 L172.6 425.7 L173.7 425.8 L175.0 426.3 L176.5 427.5 L177.3 430.5 L177.9 431.6 L178.4 433.8 L178.8 436.3 L179.4 438.4 L179.6 440.0 L180.6 441.2 L180.8 442.9 L181.1 445.5 L181.4 446.7 L181.5 449.0 L181.7 446.8 L181.6 445.5 L182.0 443.2 L181.9 441.3 L182.3 439.4 L182.4 437.3 L182.5 435.0 L182.6 433.0 L182.6 431.1 L182.8 429.0 L182.7 427.0 L182.8 424.9 L182.7 422.8 L183.1 419.9 L183.2 417.8 L183.0 415.9 L183.1 413.8 L183.4 411.9 L183.4 409.5 L183.4 407.5 L183.6 405.6 L183.6 403.6 L183.8 400.9 L183.6 399.0 L183.9 396.5 L183.9 394.8 L184.1 391.8 L184.0 389.7 L184.0 388.3 L184.2 385.9 L184.3 383.5 L184.2 381.4 L184.6 379.5 L184.4 376.8 L184.6 375.0 L184.6 373.2 L184.7 371.2 L184.9 368.6 L184.9 366.5 L185.1 364.7 L184.9 363.5 L185.0 360.7 L185.3 359.1 L185.4 356.9 L185.3 355.0 L185.3 353.3 L185.4 351.2 L185.3 348.9 L185.3 346.5 L185.3 344.0 L185.7 342.1 L185.5 340.0 L185.7 337.6 L185.5 335.3 L185.6 333.9 L185.6 331.2 L185.8 329.6 L185.7 326.6 L185.7 324.8 L185.8 322.6 L185.7 320.7 L185.6 318.4 L185.7 316.7 L185.7 314.0 L185.9 311.5 L185.8 310.0 L185.7 307.6 L185.8 305.8 L185.8 303.5 L185.6 301.0 L185.6 299.4 L185.9 296.5 L185.8 294.7 L185.8 292.5 L186.5 292.5 L186.5 294.4 L186.9 296.6 L186.8 298.8 L187.0 300.5 L187.2 302.5 L187.2 305.1 L187.3 307.1 L187.4 308.8 L187.5 311.2 L187.4 312.9 L187.3 315.4 L187.6 317.7 L187.4 319.2 L187.5 322.1 L187.4 324.0 L187.4 325.7 L187.4 327.9 L187.6 330.7 L187.8 332.0 L187.6 334.9 L187.6 336.4 L187.7 338.3 L187.7 340.7 L187.8 343.4 L187.8 344.8 L188.0 347.2 L187.9 349.4 L188.1 347.4 L188.2 344.9 L188.0 343.2 L188.2 340.8 L188.4 338.9 L188.3 336.3 L188.6 334.3 L188.5 332.3 L188.6 330.0 L188.7 328.1 L188.9 326.0 L189.3 323.3 L189.5 321.2 L189.8 319.0 L189.8 316.8 L190.1 315.4 L190.3 313.1 L190.7 314.4 L191.0 315.3 L191.2 317.5 L191.5 319.0 L191.8 320.0 L192.1 322.1 L192.1 324.3 L192.1 326.4 L192.4 327.8 L192.4 330.0 L192.7 329.1 L192.9 326.5 L193.3 325.6 L194.0 327.5 L194.2 329.4 L194.3 331.4 L194.5 332.8 L194.5 334.6 L194.6 336.9 L194.8 338.8 L195.2 340.7 L195.3 342.2 L195.5 343.8 L195.9 346.0 L196.0 347.5 L196.3 345.4 L196.5 344.3 L196.7 342.6 L197.1 340.7 L197.2 338.8 L197.7 336.9 L198.1 333.9 L198.4 332.5 L198.6 334.8 L198.8 336.4 L198.8 338.9 L199.3 340.6 L199.2 342.6 L199.5 345.0 L199.6 347.2 L200.1 349.3 L200.1 350.6 L200.1 353.0 L200.1 355.3 L200.2 356.7 L200.4 359.0 L200.3 361.1 L200.5 363.8 L200.7 365.5 L200.7 367.7 L200.6 370.4 L200.7 372.5 L200.8 370.2 L201.0 367.9 L201.2 365.7 L201.3 364.1 L201.3 361.2 L201.5 359.0 L201.5 357.3 L201.4 355.3 L201.7 353.0 L201.9 355.0 L202.0 356.8 L202.2 358.8 L203.8 358.3 L205.5 358.8 L206.4 361.3 L207.2 362.9 L207.9 363.8 L208.2 366.2 L208.5 367.7 L208.9 369.6 L209.5 371.8 L209.9 373.4 L210.2 375.4 L210.7 377.5 L211.1 375.3 L211.7 374.2 L212.1 372.5 L212.5 373.7 L213.1 375.5 L213.3 377.9 L213.9 380.4 L214.3 381.2 L214.5 383.8 L214.6 385.8 L214.6 387.2 L214.6 389.3 L214.9 392.2 L214.9 393.9 L214.9 395.9 L215.1 398.9 L215.1 400.1 L215.2 402.5 L215.5 405.1 L215.5 406.6 L215.4 408.8 L215.7 411.2 L215.9 409.1 L216.1 407.5 L216.1 405.0 L216.2 402.5 L216.1 400.9 L216.3 398.5 L216.3 396.2 L216.7 394.8 L216.6 392.5 L217.8 395.2 L218.5 396.2 L218.9 398.6 L219.3 400.7 L219.8 402.1 L219.9 404.3 L220.5 406.5 L220.9 408.8 L221.5 411.2 L222.6 412.5 L223.5 411.2 L224.0 410.7 L224.9 408.8 L225.6 409.6 L226.1 412.3 L226.8 413.8 L228.2 414.3 L229.2 415.0 L229.5 416.8 L229.7 419.6 L230.0 420.9 L230.4 423.0 L230.5 425.4 L230.9 427.5 L231.1 429.8 L231.4 431.8 L231.3 434.3 L231.5 436.2 L231.9 438.6 L232.2 440.4 L232.4 443.0 L232.5 445.0 L232.6 446.7 L232.8 449.2 L232.5 450.9 L232.9 452.9 L232.7 455.5 L232.9 457.4 L232.9 458.9 L232.7 461.8 L233.0 462.9 L232.8 465.2 L233.0 467.5 L233.2 465.1 L233.2 463.6 L233.3 461.5 L233.2 458.6 L233.2 457.0 L233.3 455.1 L233.6 452.2 L233.7 450.0 L233.6 447.8 L233.8 446.5 L233.9 443.4 L234.0 441.8 L234.0 439.6 L234.0 437.5 L234.3 439.6 L234.7 441.1 L234.8 443.5 L235.2 445.4 L235.6 447.5 L236.4 446.1 L237.5 443.8 L238.1 445.6 L239.2 446.2 L239.9 447.5 L240.3 449.6 L241.0 451.1 L241.5 454.0 L242.3 455.0 L242.9 456.3 L243.3 458.5 L244.2 460.3 L244.6 461.2 L245.0 459.3 L245.7 458.4 L246.3 456.2 L246.5 454.6 L247.1 453.0 L247.0 450.6 L247.3 449.4 L247.7 447.5 L249.4 448.8 L249.6 446.8 L249.7 444.7 L249.9 443.0 L250.2 441.1 L250.3 439.3 L250.5 437.2 L250.6 435.0 L250.5 433.0 L251.0 430.6 L251.2 428.1 L251.3 426.2 L251.4 423.8 L251.4 421.7 L251.5 419.3 L251.8 417.5 L251.8 415.8 L252.0 413.6 L252.1 411.4 L252.2 409.1 L252.0 406.5 L252.1 404.1 L252.1 402.8 L252.4 400.1 L252.5 398.4 L252.6 396.3 L252.5 393.4 L252.7 391.5 L252.7 389.4 L252.7 387.8 L252.6 385.2 L252.9 383.1 L253.0 380.8 L252.9 378.8 L253.2 381.1 L253.2 382.7 L253.0 385.0 L253.3 386.9 L253.1 389.8 L253.4 391.4 L253.3 394.1 L253.4 396.3 L253.5 398.0 L253.3 399.9 L253.5 402.3 L253.4 405.2 L253.6 407.0 L253.7 409.2 L253.7 411.2 L253.9 409.1 L253.8 406.9 L254.0 405.2 L254.2 403.0 L254.5 401.9 L254.7 399.2 L254.8 397.5 L255.2 399.3 L255.2 401.5 L255.6 403.9 L255.9 406.1 L256.1 408.3 L256.5 410.0 L256.8 412.3 L257.0 414.3 L257.4 416.4 L258.0 418.2 L258.2 420.0 L258.4 421.5 L258.6 424.4 L258.9 426.2 L259.4 428.0 L260.0 426.9 L260.5 424.5 L261.3 423.8 L262.6 423.4 L264.3 421.2 L264.5 419.3 L264.7 416.8 L264.6 414.5 L265.1 412.5 L265.3 410.7 L265.4 408.4 L265.6 406.4 L265.6 404.6 L265.8 402.5 L265.8 404.3 L266.2 406.5 L266.2 409.0 L266.3 410.5 L266.4 412.8 L266.7 415.1 L266.9 417.5 L266.9 419.3 L267.2 421.2 L267.9 418.7 L268.1 417.0 L268.8 415.0 L269.7 413.1 L270.7 411.2 L271.6 411.8 L272.2 413.7 L273.1 415.0 L273.6 416.6 L274.2 418.5 L274.8 421.2 L275.8 420.4 L277.2 420.0 L278.1 418.9 L279.1 416.2 L280.3 416.7 L281.4 418.8 L283.1 418.6 L285.0 417.5 L285.3 416.4 L285.8 414.6 L285.8 413.0 L286.3 410.0 L286.7 408.8 L287.7 408.8 L289.0 407.5 L289.3 405.1 L289.7 403.9 L290.1 401.7 L290.4 399.5 L290.9 397.5 L291.3 395.3 L291.9 393.9 L292.3 392.5 L292.4 394.9 L292.7 396.1 L292.8 398.5 L293.2 399.9 L293.4 402.6 L293.6 404.0 L293.8 406.2 L294.7 407.7 L295.7 408.8 L296.5 409.5 L297.4 412.4 L298.0 413.0 L299.3 412.1 L300.4 410.0 L301.6 411.3 L302.8 411.2 L303.9 409.9 L305.2 409.5 L306.4 411.1 L307.5 411.2 L308.6 410.1 L309.9 410.0 L310.5 411.4 L311.4 412.4 L312.3 414.5 L312.7 412.5 L313.0 410.3 L313.2 407.8 L313.5 405.9 L313.6 404.2 L314.1 402.1 L314.2 400.0 L315.4 401.2 L315.8 403.1 L315.7 405.1 L316.0 407.0 L316.3 408.0 L316.6 410.0 L317.9 409.7 L318.9 410.0 L320.1 410.3 L321.3 411.2 L322.2 409.1 L322.8 408.1 L323.7 407.5 L323.9 404.8 L324.0 402.9 L324.0 401.0 L324.2 398.4 L324.2 396.2 L324.6 394.0 L324.4 392.2 L324.6 390.0 L324.7 388.3 L324.6 385.5 L324.8 383.7 L325.0 381.4 L325.2 379.6 L325.3 377.8 L325.2 375.6 L325.3 372.6 L325.6 370.6 L325.4 368.6 L325.6 367.2 L325.9 364.5 L325.8 362.5 L326.3 361.5 L326.9 359.4 L327.2 357.5 L327.4 355.0 L327.5 353.5 L327.9 351.6 L328.2 349.6 L328.1 346.7 L328.4 345.0 L328.9 343.5 L328.9 342.0 L329.4 340.0 L329.3 337.6 L329.3 335.8 L329.4 333.2 L329.5 331.7 L329.4 329.6 L329.5 326.9 L329.4 325.4 L329.5 323.3 L329.3 321.5 L329.5 318.6 L329.3 317.3 L329.3 314.6 L329.5 313.0 L329.3 310.7 L329.3 308.5 L329.4 306.2 L330.7 306.0 L331.7 307.0 L331.9 304.7 L332.1 302.5 L332.3 300.9 L332.7 298.6 L333.0 297.4 L333.2 295.0 L333.5 292.9 L333.9 290.9 L334.0 289.0 L334.3 287.2 L334.8 285.0 L335.3 283.5 L336.0 282.5 L336.4 284.7 L336.5 286.6 L336.6 288.6 L336.9 290.1 L337.0 292.1 L336.9 294.6 L337.2 296.2 L338.1 295.0 L338.9 292.5 L340.0 291.4 L340.8 290.0 L340.8 287.5 L341.2 286.2 L341.3 283.6 L341.3 281.7 L341.8 279.5 L341.8 277.8 L342.2 276.5 L342.1 273.6 L342.6 272.5 L342.7 270.0 L342.7 268.1 L343.1 266.3 L343.2 264.7 L343.3 262.6 L343.6 261.2 L343.5 263.1 L343.6 265.7 L343.9 267.5 L344.0 270.1 L343.9 272.1 L343.9 274.7 L344.1 276.0 L344.0 278.8 L344.1 281.0 L344.1 283.2 L344.4 284.7 L344.4 286.9 L344.5 289.7 L344.6 291.3 L344.6 293.8 L344.6 292.0 L345.1 289.6 L345.2 288.2 L345.4 286.4 L345.7 284.1 L346.0 282.5 L346.9 280.7 L347.9 278.8 L348.9 278.5 L349.8 280.0 L350.2 277.7 L350.4 276.1 L350.9 274.1 L351.3 271.7 L351.4 270.0 L351.6 268.0 L351.8 265.3 L352.0 263.7 L352.4 261.5 L352.7 259.4 L352.6 256.7 L353.0 254.2 L353.1 252.5 L353.2 249.9 L353.1 248.2 L353.2 246.4 L353.6 243.8 L353.4 241.3 L353.6 239.5 L353.6 237.5 L353.8 235.4 L353.7 232.6 L353.9 230.8 L353.9 228.8 L354.0 226.3 L354.1 224.5 L354.3 222.0 L354.3 220.0 L354.3 218.4 L354.6 216.0 L354.3 213.7 L354.6 211.5 L354.4 210.1 L354.8 207.2 L354.7 205.6 L354.7 203.0 L354.9 201.6 L354.8 198.8 L354.9 196.7 L355.1 194.6 L355.0 193.0 L355.0 195.3 L355.1 196.8 L355.2 198.9 L355.5 201.6 L355.5 203.0 L355.8 205.4 L355.8 207.1 L355.9 210.1 L355.9 211.4 L356.2 213.8 L356.5 212.1 L356.7 209.6 L357.0 207.6 L356.9 205.4 L357.3 203.6 L357.4 201.2 L357.5 202.7 L358.1 204.4 L358.4 206.3 L358.4 208.0 L358.8 210.0 L358.9 212.5 L358.9 214.3 L359.1 215.6 L359.4 217.7 L359.4 219.7 L359.7 222.1 L359.8 223.8 L359.9 225.4 L360.2 228.2 L360.4 230.8 L360.3 232.8 L360.6 234.5 L360.6 236.7 L360.7 238.9 L360.9 241.2 L360.9 238.8 L361.3 236.8 L361.3 235.1 L361.4 232.2 L361.6 230.6 L361.7 228.4 L361.7 226.3 L361.6 223.9 L361.8 221.9 L361.8 219.4 L362.0 217.5 L362.1 215.0 L363.6 216.2 L363.8 218.7 L364.4 220.7 L364.5 222.7 L365.0 223.8 L365.3 226.1 L365.4 227.5 L365.7 230.2 L365.7 232.1 L366.0 234.7 L366.3 236.2 L366.2 238.4 L366.3 240.6 L366.5 243.2 L366.9 245.0 L367.2 242.4 L367.7 241.7 L368.2 239.3 L368.8 237.5 L369.1 235.9 L369.6 233.6 L369.8 232.3 L370.0 230.4 L370.4 227.9 L370.7 226.2 L371.1 228.1 L371.1 229.8 L371.7 231.5 L371.8 233.2 L372.1 235.0 L372.6 237.2 L372.7 238.9 L373.2 241.5 L373.7 242.6 L374.0 245.0 L374.6 246.0 L375.0 248.6 L375.5 250.5 L375.9 252.5 L376.0 254.5 L376.6 256.7 L376.7 258.1 L377.1 260.7 L377.1 262.7 L377.7 264.2 L377.8 266.2 L378.3 264.8 L379.1 262.0 L379.5 260.3 L380.2 258.8 L380.5 260.4 L380.8 262.8 L381.1 264.4 L381.5 267.2 L381.6 268.8 L381.9 271.1 L381.9 273.3 L382.3 275.3 L382.7 276.9 L382.9 278.9 L383.0 281.2 L383.2 279.5 L383.8 278.5 L384.2 276.0 L384.5 274.4 L384.7 272.5 L385.0 274.6 L385.6 276.1 L386.0 277.7 L386.3 280.0 L388.2 280.0 L389.1 281.7 L390.1 283.8 L391.1 284.3 L392.0 285.0 L392.2 286.5 L392.5 289.2 L393.0 290.7 L393.1 293.0 L393.5 295.0 L393.6 297.2 L394.1 298.9 L394.2 301.5 L394.5 303.5 L394.7 305.2 L394.9 307.5 L395.5 310.3 L395.7 312.5 L396.3 313.8 L396.6 311.6 L396.7 310.5 L397.2 308.1 L397.4 306.9 L397.7 305.0 L398.4 303.0 L398.8 301.2 L399.2 300.0 L399.3 301.5 L399.6 303.9 L399.8 305.3 L400.1 307.5 L400.5 304.9 L400.9 303.4 L401.5 301.3 L402.0 300.0 L402.3 297.9 L402.8 296.0 L403.2 294.0 L403.2 292.1 L403.7 290.0 L404.1 287.7 L404.6 287.0 L405.3 285.0 L405.8 282.9 L405.8 280.9 L406.1 279.2 L406.4 276.7 L406.8 275.0 L407.2 273.4 L407.2 272.1 L407.8 269.5 L408.1 268.8 L408.4 266.2 L408.6 264.4 L408.8 262.8 L409.2 261.2 L409.5 258.9 L409.6 257.5 L409.8 259.9 L410.2 261.8 L410.4 263.6 L410.7 265.9 L410.7 267.6 L411.0 270.0 L411.4 269.0 L412.1 265.8 L412.4 265.0 L412.7 262.9 L413.1 260.7 L413.5 258.6 L413.7 257.1 L414.1 254.6 L414.3 252.5 L414.7 250.4 L415.1 248.8 L415.4 246.4 L415.8 244.4 L416.2 242.5 L416.9 240.7 L417.2 238.8 L418.6 240.0 L418.8 241.4 L419.4 242.7 L419.6 245.0 L419.8 246.7 L419.8 248.9 L420.2 251.2 L420.2 253.3 L420.4 256.2 L420.7 258.5 L421.0 260.4 L421.0 262.5 L421.5 259.9 L421.9 258.6 L421.9 257.3 L422.4 255.0 L422.9 256.9 L423.0 259.4 L423.7 261.1 L424.1 262.5 L424.3 265.0 L424.6 266.2 L425.1 269.1 L425.8 269.9 L426.2 272.5 L426.7 269.8 L427.5 268.6 L428.1 266.2 L428.5 268.0 L428.8 269.9 L428.8 271.6 L429.0 274.2 L429.5 275.8 L429.5 277.5 L430.4 278.8 L431.4 281.2 L431.9 279.3 L432.8 277.1 L433.3 276.2 L433.7 278.3 L433.9 279.6 L434.6 281.6 L434.8 283.9 L435.2 285.0 L435.7 286.6 L436.1 289.5 L436.8 291.4 L437.1 292.5 L437.5 293.7 L437.7 296.0 L438.3 297.2 L438.6 300.0 L439.1 298.8 L439.5 295.8 L440.0 295.0 L440.3 292.8 L440.5 290.8 L440.8 288.5 L441.1 286.9 L441.3 284.4 L441.3 282.0 L441.6 280.0 L442.0 278.9 L442.6 276.8 L443.0 275.3 L443.3 272.5 L443.8 270.2 L444.3 268.1 L444.8 265.9 L445.2 264.5 L445.7 265.9 L445.9 268.1 L446.4 268.8 L446.4 271.3 L446.7 272.6 L446.9 275.1 L447.1 277.2 L447.0 279.6 L447.0 281.5 L447.2 283.1 L447.3 285.8 L447.6 287.5 L447.7 289.9 L447.8 292.0 L448.1 293.5 L448.1 296.2 L448.2 298.3 L448.3 300.1 L448.7 302.8 L448.9 304.4 L448.9 306.9 L449.0 308.8 L449.3 306.7 L449.5 304.7 L449.8 302.8 L449.7 301.1 L449.9 299.1 L450.0 297.5 L450.4 295.0 L451.4 294.2 L452.3 292.5 L452.8 291.1 L453.5 288.7 L454.2 287.5 L455.0 288.3 L455.5 290.1 L456.1 292.5 L457.4 292.6 L458.5 291.2 L459.3 292.4 L460.4 293.8 L461.7 294.1 L463.0 293.8 L463.3 291.6 L463.6 289.5 L463.6 288.2 L463.8 285.6 L464.2 283.8 L464.3 282.4 L464.7 280.0 L465.3 278.8 L465.8 277.4 L466.6 275.0 L467.4 277.6 L468.5 278.8 L468.7 281.1 L469.0 282.6 L469.2 284.7 L469.4 285.8 L469.8 288.4 L469.9 290.0 L470.4 291.7 L470.8 292.5 L471.4 290.8 L472.2 290.0 L472.7 287.5 L473.8 285.0 L474.6 283.8 L475.1 282.1 L475.4 279.7 L475.6 278.4 L476.1 276.3 L476.5 275.0 L476.8 273.0 L477.3 270.9 L477.4 269.1 L477.7 267.1 L478.3 264.2 L478.4 262.5 L479.1 261.7 L479.7 259.3 L480.3 257.5 L480.4 254.9 L480.6 252.8 L480.8 251.2 L481.0 249.4 L481.2 246.6 L481.5 244.8 L481.5 242.5 L481.7 240.8 L482.0 238.2 L482.1 236.1 L482.5 233.9 L482.7 231.6 L482.7 230.0 L482.8 232.1 L483.2 234.0 L483.4 236.3 L483.9 238.2 L484.1 240.0 L484.6 238.5 L484.8 236.2 L484.8 233.5 L485.2 232.5 L485.6 230.0 L485.8 227.9 L485.9 225.6 L486.5 223.7 L486.8 220.9 L486.8 219.0 L487.3 216.7 L487.4 215.0 L487.8 216.9 L488.0 219.3 L488.0 221.9 L488.2 223.8 L488.3 226.0 L488.9 227.5 L488.9 230.0 L489.2 227.6 L489.1 225.6 L489.5 224.0 L489.9 221.9 L489.9 219.4 L490.0 217.4 L490.3 215.0 L490.6 216.9 L491.0 218.8 L491.0 220.7 L491.3 223.1 L491.7 225.0 L492.1 222.6 L492.2 220.9 L492.5 218.7 L492.7 216.2 L492.7 214.5 L493.1 212.5 L493.3 210.9 L493.5 209.1 L493.8 206.5 L494.1 204.9 L494.3 203.4 L494.6 201.2 L494.7 203.2 L495.3 204.7 L495.4 206.9 L495.7 207.9 L496.0 210.0 L495.9 207.5 L496.1 205.4 L496.4 203.7 L496.4 201.6 L496.7 199.3 L496.5 197.3 L496.7 195.8 L496.9 193.2 L496.8 190.7 L496.9 189.4 L497.2 187.0 L497.3 188.7 L497.4 190.7 L497.5 193.0 L497.4 195.4 L497.7 197.3 L497.6 199.5 L497.8 201.5 L497.8 203.8 L497.8 205.2 L498.1 207.5 L498.1 209.3 L498.1 212.0 L498.5 213.8 L498.2 216.2 L498.3 218.1 L498.5 220.3 L498.4 222.1 L498.6 225.1 L498.7 226.4 L498.6 228.9 L498.6 231.2 L498.7 233.5 L498.7 235.8 L498.8 237.5 L499.2 235.7 L499.3 234.0 L499.6 232.4 L500.1 230.6 L500.3 228.8 L501.1 230.0 L501.6 233.5 L502.2 235.0 L502.3 236.8 L502.6 239.1 L503.1 240.8 L503.4 242.9 L503.6 245.0 L505.0 246.2 L505.3 244.2 L505.7 242.4 L505.5 240.2 L506.0 239.1 L506.3 236.5 L506.4 235.0 L506.9 233.3 L506.9 231.1 L507.5 228.9 L507.5 227.4 L508.2 226.1 L508.3 223.8 L508.7 222.6 L509.4 220.7 L509.8 219.0 L510.2 216.2 L510.6 218.9 L511.0 219.5 L511.3 221.8 L511.7 223.8 L511.9 225.6 L512.2 227.8 L512.4 229.5 L512.8 231.8 L513.1 233.8 L513.3 232.2 L513.5 230.3 L513.9 228.8 L514.3 227.0 L514.5 225.0 L515.1 222.9 L515.9 221.7 L516.4 220.0 L516.5 217.6 L516.7 215.8 L517.1 213.4 L517.2 211.0 L517.3 208.9 L517.4 206.7 L517.7 204.9 L517.8 202.5 L518.0 204.3 L518.4 206.8 L518.6 208.9 L518.9 210.6 L518.9 212.8 L519.3 215.0 L519.8 217.7 L520.7 218.8 L520.9 220.9 L521.3 223.0 L521.2 224.5 L521.3 226.9 L521.8 228.6 L521.8 230.3 L522.1 232.5 L522.8 231.6 L523.5 230.0 L524.2 232.7 L524.6 234.1 L525.0 236.2 L525.2 238.0 L525.7 239.9 L525.6 241.9 L526.2 244.5 L526.2 246.4 L526.7 248.0 L526.8 250.0 L527.1 248.3 L527.6 245.6 L528.1 243.9 L528.3 242.1 L528.7 240.0 L529.0 241.6 L529.3 244.0 L529.5 246.1 L530.1 248.2 L530.4 250.5 L530.6 252.5 L531.5 250.4 L532.5 250.0 L532.9 248.4 L533.0 246.2 L533.5 245.2 L533.6 243.1 L534.0 241.2 L534.6 243.0 L535.1 245.1 L535.9 247.5 L536.6 249.8 L537.1 251.0 L537.8 253.8 L537.8 255.6 L538.1 257.7 L538.5 259.5 L538.7 261.6 L538.8 263.6 L538.9 265.8 L538.8 268.3 L539.2 270.0 L540.0 271.5 L540.6 273.8 L541.0 275.6 L541.3 277.1 L541.3 279.1 L541.6 281.2 L541.7 283.5 L541.9 285.2 L541.9 287.4 L541.9 288.8 L542.3 291.0 L542.3 293.0 L542.7 290.4 L542.7 288.4 L542.7 286.1 L542.9 284.2 L543.2 282.2 L543.5 280.0 L543.9 282.4 L544.4 285.0 L544.9 286.2 L545.4 284.2 L546.2 281.9 L546.8 280.0 L547.6 277.8 L548.2 276.4 L548.7 275.0 L549.3 276.9 L550.0 277.9 L550.6 280.0 L551.1 278.9 L552.0 276.2 L552.6 277.6 L553.3 280.5 L553.9 282.5 L554.6 283.4 L555.6 284.7 L556.3 286.2 L556.9 285.4 L557.5 282.7 L558.2 281.2 L558.3 279.7 L558.8 277.7 L559.0 275.7 L559.4 274.2 L559.6 272.5 L560.1 270.4 L560.4 267.9 L560.6 267.7 L561.0 265.0 L562.5 263.8 L562.8 265.9 L563.0 267.7 L563.2 269.4 L563.6 271.9 L563.9 273.8 L564.1 272.1 L564.4 270.2 L564.8 268.1 L565.3 266.2 L565.6 264.5 L565.9 262.5 L566.4 260.0 L566.7 258.8 L567.3 257.4 L568.0 255.6 L568.6 253.8 L569.7 253.3 L570.5 252.5 L571.1 254.3 L571.9 256.2 L572.2 258.5 L572.4 260.4 L572.4 263.1 L572.7 265.0 L572.6 267.1 L572.8 269.5 L573.1 271.2 L573.5 269.5 L573.4 267.7 L573.5 265.7 L573.8 262.9 L574.1 261.4 L574.3 259.7 L574.3 257.5 L575.3 256.3 L576.2 253.8 L576.8 255.7 L577.6 256.2 L578.0 257.1 L578.3 259.0 L578.6 261.7 L579.0 262.6 L579.5 265.0 L579.8 262.7 L580.4 262.0 L580.7 260.3 L581.0 257.5 L581.9 257.4 L582.9 256.2 L583.1 258.4 L583.6 260.0 L583.6 261.1 L584.2 263.3 L584.3 265.0 L584.5 263.3 L584.5 261.1 L584.8 259.2 L585.0 256.6 L585.4 254.6 L585.4 253.1 L585.4 251.0 L585.7 248.8 L586.0 250.1 L586.3 253.3 L586.7 254.4 L587.1 256.2 L588.6 255.0 L589.0 255.6 L589.5 258.0" fill="none" stroke="#4b5066" stroke-width="2.4" stroke-linejoin="round" stroke-linecap="round"/>
 <text class="ax" x="86.3" y="185" text-anchor="end" fill="#848798" textLength="51.3" lengthAdjust="spacing">451.02</text>
 <text class="ax" x="86.3" y="258" text-anchor="end" fill="#848798" textLength="50.5" lengthAdjust="spacing">100.00</text>
 <text class="ax" x="86.3" y="368" text-anchor="end" fill="#848798" textLength="40.5" lengthAdjust="spacing">10.00</text>
 <text class="ax" x="86.3" y="479.2" text-anchor="end" fill="#848798" textLength="31.3" lengthAdjust="spacing">1.00</text>
 <text class="ax" x="601" y="184.5" text-anchor="start" fill="#f2a25f" textLength="30.6" lengthAdjust="spacing">0.35</text>
 <text class="ax" x="601" y="227" text-anchor="start" fill="#f2a25f">0.3</text>
 <text class="ax" x="601" y="269" text-anchor="start" fill="#f2a25f" textLength="30.6" lengthAdjust="spacing">0.25</text>
 <text class="ax" x="601" y="311" text-anchor="start" fill="#f2a25f">0.2</text>
 <text class="ax" x="601" y="353" text-anchor="start" fill="#f2a25f" textLength="30.6" lengthAdjust="spacing">0.15</text>
 <text class="ax" x="601" y="395" text-anchor="start" fill="#f2a25f">0.1</text>
 <text class="ax" x="601" y="437.7" text-anchor="start" fill="#f2a25f" textLength="30.6" lengthAdjust="spacing">0.05</text>
 <text class="ax" x="601" y="479.3" text-anchor="start" fill="#f2a25f" textLength="86.8" lengthAdjust="spacing">0.00000011</text>
 <text class="ax" x="99" y="501.3" text-anchor="middle" fill="#848798" textLength="88.3" lengthAdjust="spacing">2011/10/13</text>
 <text class="ax" x="246.5" y="501.3" text-anchor="middle" fill="#848798" textLength="88.7" lengthAdjust="spacing">2015/05/05</text>
 <text class="ax" x="394.3" y="501.3" text-anchor="middle" fill="#848798" textLength="89.3" lengthAdjust="spacing">2018/11/25</text>
 <text class="ax" x="542.7" y="501.3" text-anchor="middle" fill="#848798" textLength="88.5" lengthAdjust="spacing">2022/06/23</text>
 <g stroke="#4b5066" stroke-width="2.6" fill="#fff"><line x1="182" y1="534.5" x2="209" y2="534.5" stroke-linecap="round"/><circle cx="195.5" cy="534.5" r="4.5"/></g>
 <text class="lg" x="223" y="539.6" fill="#848798" textLength="78.4" lengthAdjust="spacing">LTC价格($)</text>
 <g stroke="#f39a4e" stroke-width="2.6" fill="#fff"><line x1="337" y1="534.5" x2="369.8" y2="534.5" stroke-linecap="round"/><circle cx="353.5" cy="534.5" r="4.5"/></g>
 <text class="lg" x="377.8" y="539.6" fill="#848798" textLength="166.3" lengthAdjust="spacing">日平均交易手续费(LTC)</text>
</svg>
</div>
</body></html>
